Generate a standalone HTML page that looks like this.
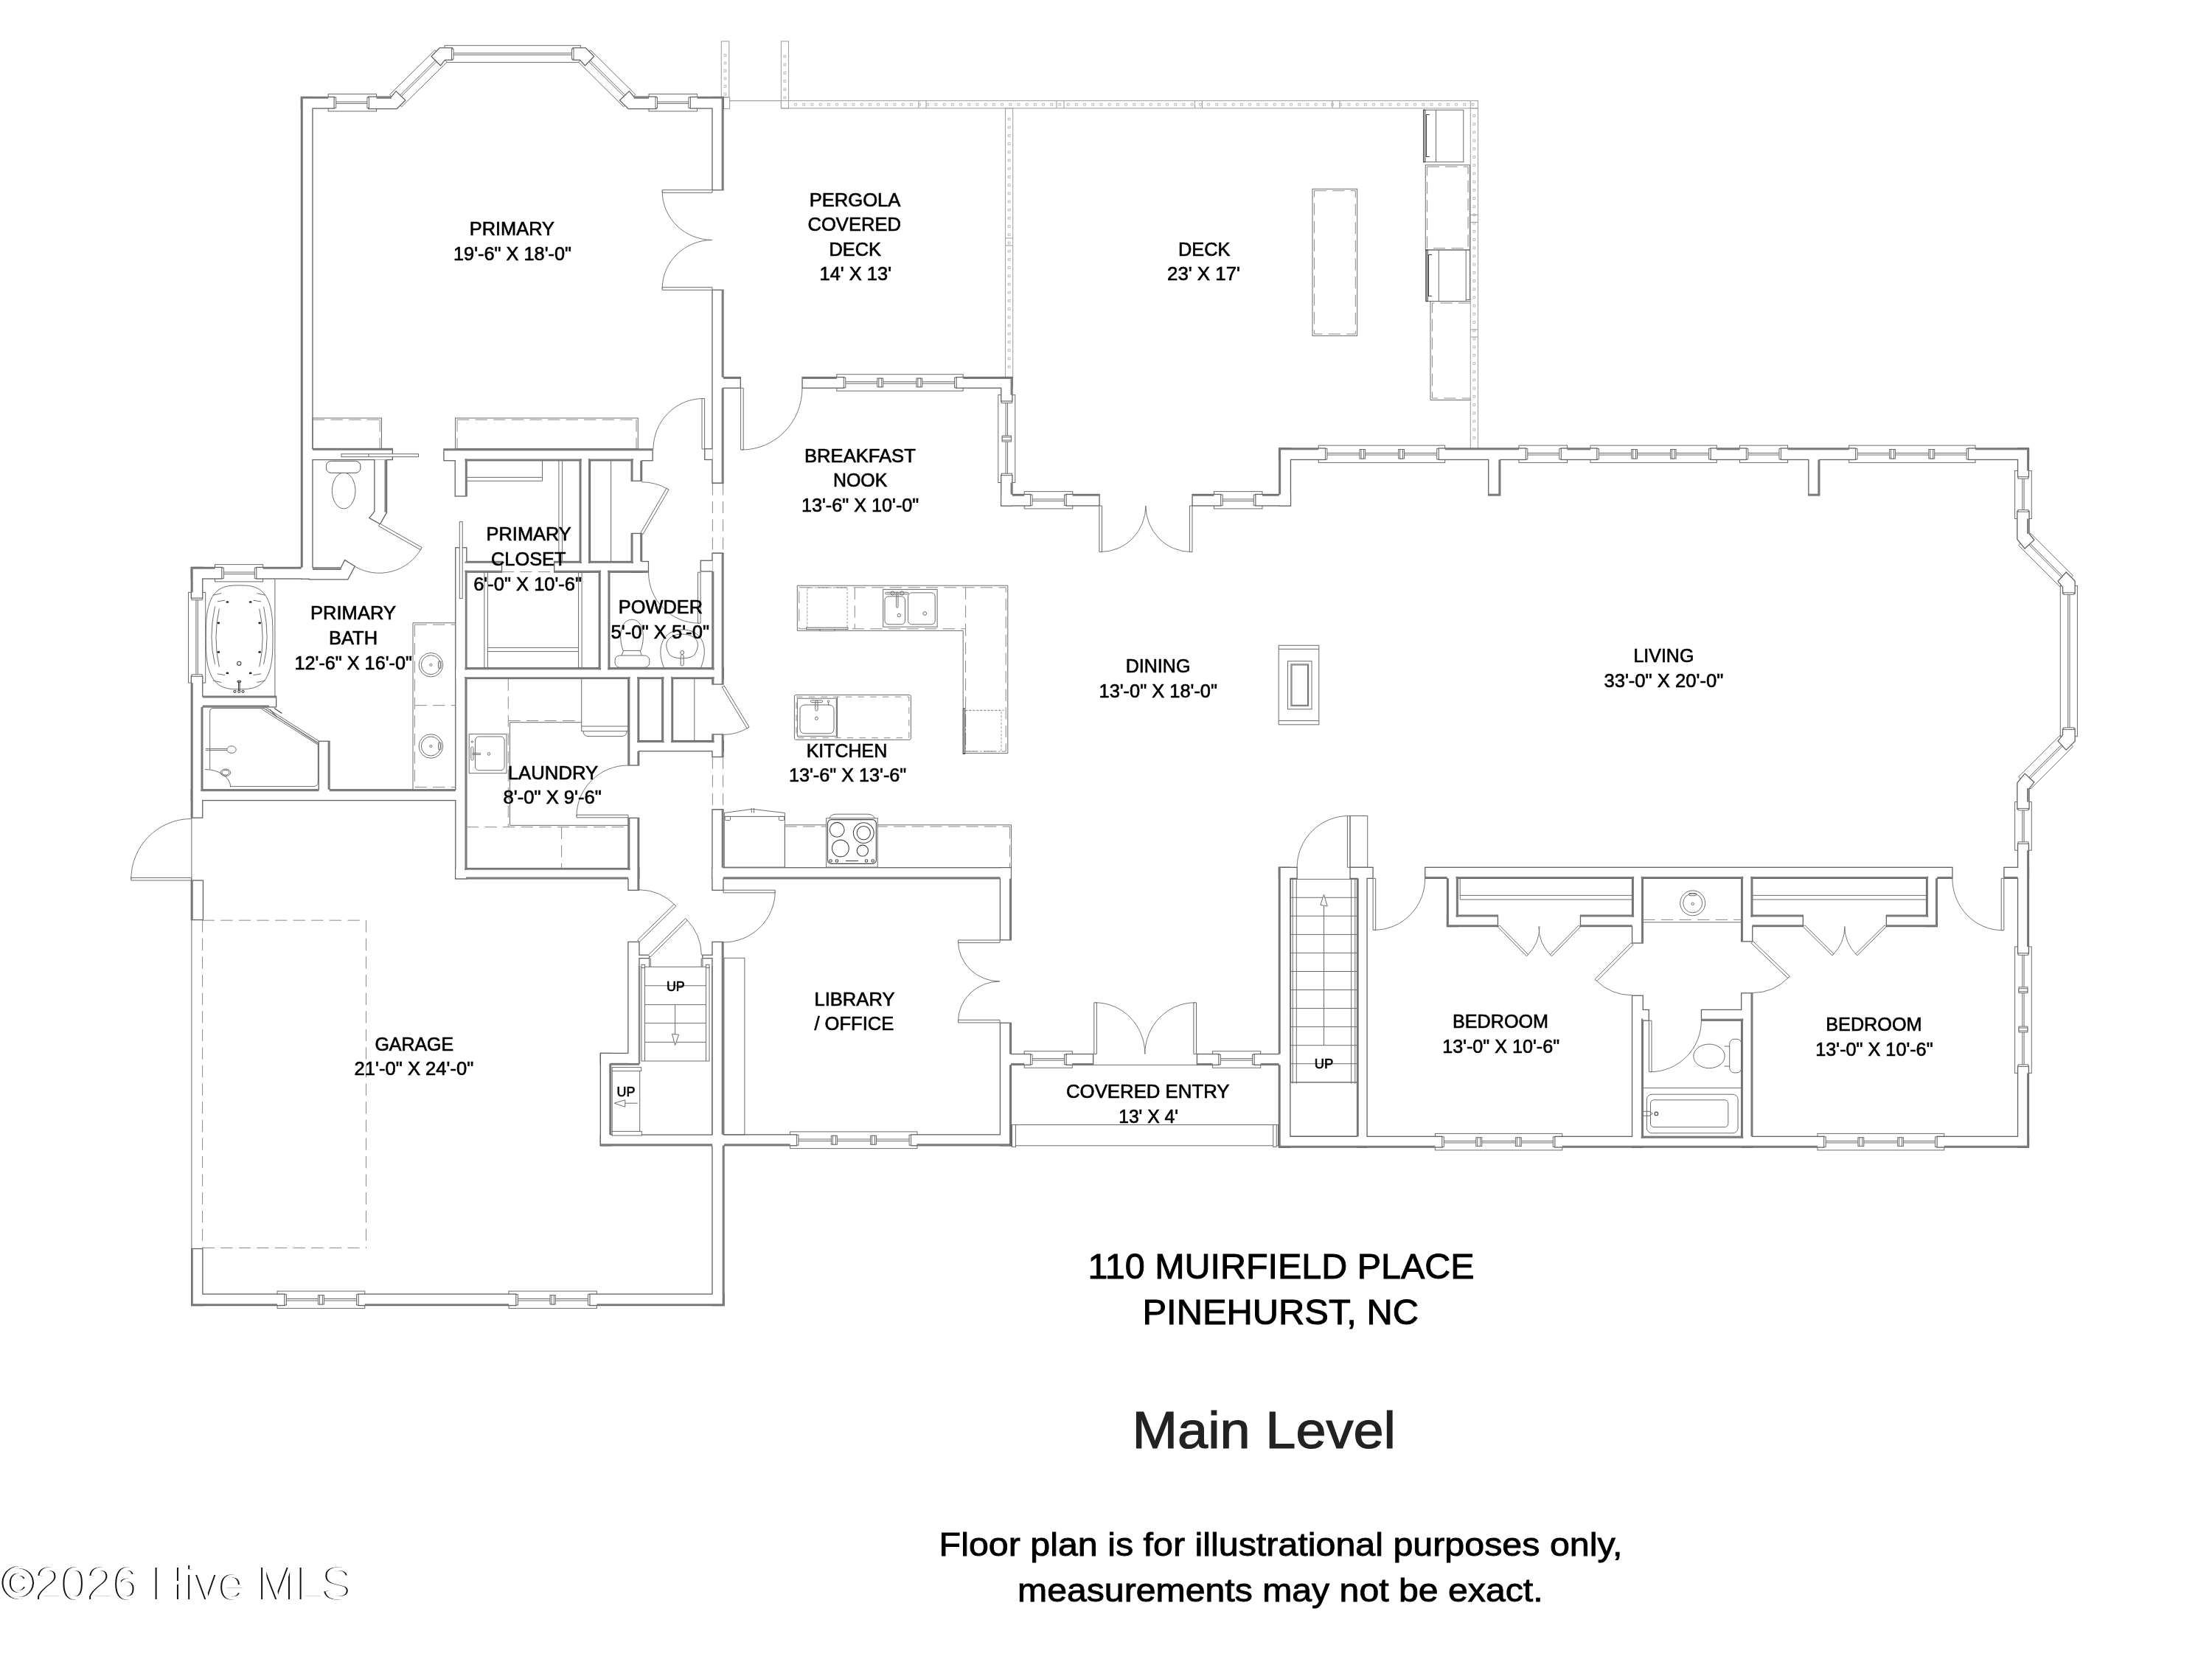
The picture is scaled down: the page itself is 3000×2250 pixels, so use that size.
<!DOCTYPE html>
<html lang="en"><head><meta charset="utf-8"><title>110 Muirfield Place - Main Level</title>
<style>
html,body{margin:0;padding:0;background:#fff}
body{width:3000px;height:2250px;overflow:hidden}
svg{display:block;will-change:transform}
.t{fill:none;stroke:#6c6c6c;stroke-width:1}
.w{fill:#fff}
.a{fill:none;stroke:#707070;stroke-width:0.95}
.d{fill:none;stroke:#8a8a8a;stroke-width:1;stroke-dasharray:16.3 8.3}
.d3{fill:none;stroke:#8a8a8a;stroke-width:1;stroke-dasharray:8.5 8.2}
.d2{fill:none;stroke:#909090;stroke-width:0.9;stroke-dasharray:3 2}
.k{fill:#222;stroke:none}
.k2{fill:none;stroke:#444;stroke-width:1.1}
.k3{fill:none;stroke:#888;stroke-width:2.6}
.ws{fill:none;stroke:#626262;stroke-width:2.6;stroke-linejoin:miter}
.wf{fill:#fff;stroke:none}
.x{fill:none;stroke:#7c7c7c;stroke-width:2.3}
.r{fill:none;stroke:#a4a4a4;stroke-width:1.1}
.rs{fill:none;stroke:#b8b8b8;stroke-width:0.9}
text{font-family:"Liberation Sans",sans-serif;fill:#000}
.h{stroke:#000;stroke-width:0.65}
.h2{stroke:#000;stroke-width:1}
.ml{fill:#222;stroke:#222;stroke-width:1.2}
.fp{stroke:#000;stroke-width:0.9}
.wm{fill:#fff;filter:drop-shadow(-1.6px 0 0 #111)}
</style></head>
<body>
<svg width="3000" height="2250" viewBox="0 0 3000 2250">
<rect class="r w" x="978.3" y="56" width="10.5" height="76"/>
<rect class="rs" x="982.1" y="73.6" width="2.8" height="2.8"/>
<rect class="rs" x="982.1" y="84.1" width="2.8" height="2.8"/>
<rect class="rs" x="982.1" y="94.6" width="2.8" height="2.8"/>
<rect class="rs" x="982.1" y="105.1" width="2.8" height="2.8"/>
<rect class="rs" x="982.1" y="115.6" width="2.8" height="2.8"/>
<rect class="rs" x="982.1" y="126.1" width="2.8" height="2.8"/>
<rect class="r w" x="981" y="132" width="8.6" height="15.5"/>
<path class="r" d="M989 136.6L1059.4 136.6"/>
<rect class="r w" x="1059.4" y="56" width="10.1" height="90.8"/>
<rect class="rs" x="1063" y="75.1" width="2.8" height="2.8"/>
<rect class="rs" x="1063" y="86.3" width="2.8" height="2.8"/>
<rect class="rs" x="1063" y="97.5" width="2.8" height="2.8"/>
<rect class="rs" x="1063" y="108.7" width="2.8" height="2.8"/>
<rect class="rs" x="1063" y="119.9" width="2.8" height="2.8"/>
<rect class="rs" x="1063" y="131.1" width="2.8" height="2.8"/>
<rect class="r w" x="1059.4" y="136.6" width="945.1" height="10.2"/>
<rect class="rs" x="1077.6" y="140.3" width="2.8" height="2.8"/>
<rect class="rs" x="1088.8" y="140.3" width="2.8" height="2.8"/>
<rect class="rs" x="1100" y="140.3" width="2.8" height="2.8"/>
<rect class="rs" x="1111.2" y="140.3" width="2.8" height="2.8"/>
<rect class="rs" x="1122.4" y="140.3" width="2.8" height="2.8"/>
<rect class="rs" x="1133.6" y="140.3" width="2.8" height="2.8"/>
<rect class="rs" x="1144.8" y="140.3" width="2.8" height="2.8"/>
<rect class="rs" x="1156" y="140.3" width="2.8" height="2.8"/>
<rect class="rs" x="1167.2" y="140.3" width="2.8" height="2.8"/>
<rect class="rs" x="1178.4" y="140.3" width="2.8" height="2.8"/>
<rect class="rs" x="1189.6" y="140.3" width="2.8" height="2.8"/>
<rect class="rs" x="1200.8" y="140.3" width="2.8" height="2.8"/>
<rect class="rs" x="1212" y="140.3" width="2.8" height="2.8"/>
<rect class="rs" x="1223.2" y="140.3" width="2.8" height="2.8"/>
<rect class="rs" x="1234.4" y="140.3" width="2.8" height="2.8"/>
<rect class="rs" x="1245.6" y="140.3" width="2.8" height="2.8"/>
<rect class="rs" x="1256.8" y="140.3" width="2.8" height="2.8"/>
<rect class="rs" x="1268" y="140.3" width="2.8" height="2.8"/>
<rect class="rs" x="1279.2" y="140.3" width="2.8" height="2.8"/>
<rect class="rs" x="1290.4" y="140.3" width="2.8" height="2.8"/>
<rect class="rs" x="1301.6" y="140.3" width="2.8" height="2.8"/>
<rect class="rs" x="1312.8" y="140.3" width="2.8" height="2.8"/>
<rect class="rs" x="1324" y="140.3" width="2.8" height="2.8"/>
<rect class="rs" x="1335.2" y="140.3" width="2.8" height="2.8"/>
<rect class="rs" x="1346.4" y="140.3" width="2.8" height="2.8"/>
<rect class="rs" x="1357.6" y="140.3" width="2.8" height="2.8"/>
<rect class="rs" x="1368.8" y="140.3" width="2.8" height="2.8"/>
<rect class="rs" x="1380" y="140.3" width="2.8" height="2.8"/>
<rect class="rs" x="1391.2" y="140.3" width="2.8" height="2.8"/>
<rect class="rs" x="1402.4" y="140.3" width="2.8" height="2.8"/>
<rect class="rs" x="1413.6" y="140.3" width="2.8" height="2.8"/>
<rect class="rs" x="1424.8" y="140.3" width="2.8" height="2.8"/>
<rect class="rs" x="1436" y="140.3" width="2.8" height="2.8"/>
<rect class="rs" x="1447.2" y="140.3" width="2.8" height="2.8"/>
<rect class="rs" x="1458.4" y="140.3" width="2.8" height="2.8"/>
<rect class="rs" x="1469.6" y="140.3" width="2.8" height="2.8"/>
<rect class="rs" x="1480.8" y="140.3" width="2.8" height="2.8"/>
<rect class="rs" x="1492" y="140.3" width="2.8" height="2.8"/>
<rect class="rs" x="1503.2" y="140.3" width="2.8" height="2.8"/>
<rect class="rs" x="1514.4" y="140.3" width="2.8" height="2.8"/>
<rect class="rs" x="1525.6" y="140.3" width="2.8" height="2.8"/>
<rect class="rs" x="1536.8" y="140.3" width="2.8" height="2.8"/>
<rect class="rs" x="1548" y="140.3" width="2.8" height="2.8"/>
<rect class="rs" x="1559.2" y="140.3" width="2.8" height="2.8"/>
<rect class="rs" x="1570.4" y="140.3" width="2.8" height="2.8"/>
<rect class="rs" x="1581.6" y="140.3" width="2.8" height="2.8"/>
<rect class="rs" x="1592.8" y="140.3" width="2.8" height="2.8"/>
<rect class="rs" x="1604" y="140.3" width="2.8" height="2.8"/>
<rect class="rs" x="1615.2" y="140.3" width="2.8" height="2.8"/>
<rect class="rs" x="1626.4" y="140.3" width="2.8" height="2.8"/>
<rect class="rs" x="1637.6" y="140.3" width="2.8" height="2.8"/>
<rect class="rs" x="1648.8" y="140.3" width="2.8" height="2.8"/>
<rect class="rs" x="1660" y="140.3" width="2.8" height="2.8"/>
<rect class="rs" x="1671.2" y="140.3" width="2.8" height="2.8"/>
<rect class="rs" x="1682.4" y="140.3" width="2.8" height="2.8"/>
<rect class="rs" x="1693.6" y="140.3" width="2.8" height="2.8"/>
<rect class="rs" x="1704.8" y="140.3" width="2.8" height="2.8"/>
<rect class="rs" x="1716" y="140.3" width="2.8" height="2.8"/>
<rect class="rs" x="1727.2" y="140.3" width="2.8" height="2.8"/>
<rect class="rs" x="1738.4" y="140.3" width="2.8" height="2.8"/>
<rect class="rs" x="1749.6" y="140.3" width="2.8" height="2.8"/>
<rect class="rs" x="1760.8" y="140.3" width="2.8" height="2.8"/>
<rect class="rs" x="1772" y="140.3" width="2.8" height="2.8"/>
<rect class="rs" x="1783.2" y="140.3" width="2.8" height="2.8"/>
<rect class="rs" x="1794.4" y="140.3" width="2.8" height="2.8"/>
<rect class="rs" x="1805.6" y="140.3" width="2.8" height="2.8"/>
<rect class="rs" x="1816.8" y="140.3" width="2.8" height="2.8"/>
<rect class="rs" x="1828" y="140.3" width="2.8" height="2.8"/>
<rect class="rs" x="1839.2" y="140.3" width="2.8" height="2.8"/>
<rect class="rs" x="1850.4" y="140.3" width="2.8" height="2.8"/>
<rect class="rs" x="1861.6" y="140.3" width="2.8" height="2.8"/>
<rect class="rs" x="1872.8" y="140.3" width="2.8" height="2.8"/>
<rect class="rs" x="1884" y="140.3" width="2.8" height="2.8"/>
<rect class="rs" x="1895.2" y="140.3" width="2.8" height="2.8"/>
<rect class="rs" x="1906.4" y="140.3" width="2.8" height="2.8"/>
<rect class="rs" x="1917.6" y="140.3" width="2.8" height="2.8"/>
<rect class="rs" x="1928.8" y="140.3" width="2.8" height="2.8"/>
<rect class="rs" x="1940" y="140.3" width="2.8" height="2.8"/>
<rect class="rs" x="1951.2" y="140.3" width="2.8" height="2.8"/>
<rect class="rs" x="1962.4" y="140.3" width="2.8" height="2.8"/>
<rect class="rs" x="1973.6" y="140.3" width="2.8" height="2.8"/>
<rect class="rs" x="1984.8" y="140.3" width="2.8" height="2.8"/>
<rect class="rs" x="1996" y="140.3" width="2.8" height="2.8"/>
<rect class="r w" x="1363.5" y="146.8" width="10.2" height="364.8"/>
<rect class="rs" x="1367.2" y="160.1" width="2.8" height="2.8"/>
<rect class="rs" x="1367.2" y="171.3" width="2.8" height="2.8"/>
<rect class="rs" x="1367.2" y="182.5" width="2.8" height="2.8"/>
<rect class="rs" x="1367.2" y="193.7" width="2.8" height="2.8"/>
<rect class="rs" x="1367.2" y="204.9" width="2.8" height="2.8"/>
<rect class="rs" x="1367.2" y="216.1" width="2.8" height="2.8"/>
<rect class="rs" x="1367.2" y="227.3" width="2.8" height="2.8"/>
<rect class="rs" x="1367.2" y="238.5" width="2.8" height="2.8"/>
<rect class="rs" x="1367.2" y="249.7" width="2.8" height="2.8"/>
<rect class="rs" x="1367.2" y="260.9" width="2.8" height="2.8"/>
<rect class="rs" x="1367.2" y="272.1" width="2.8" height="2.8"/>
<rect class="rs" x="1367.2" y="283.3" width="2.8" height="2.8"/>
<rect class="rs" x="1367.2" y="294.5" width="2.8" height="2.8"/>
<rect class="rs" x="1367.2" y="305.7" width="2.8" height="2.8"/>
<rect class="rs" x="1367.2" y="316.9" width="2.8" height="2.8"/>
<rect class="rs" x="1367.2" y="328.1" width="2.8" height="2.8"/>
<rect class="rs" x="1367.2" y="339.3" width="2.8" height="2.8"/>
<rect class="rs" x="1367.2" y="350.5" width="2.8" height="2.8"/>
<rect class="rs" x="1367.2" y="361.7" width="2.8" height="2.8"/>
<rect class="rs" x="1367.2" y="372.9" width="2.8" height="2.8"/>
<rect class="rs" x="1367.2" y="384.1" width="2.8" height="2.8"/>
<rect class="rs" x="1367.2" y="395.3" width="2.8" height="2.8"/>
<rect class="rs" x="1367.2" y="406.5" width="2.8" height="2.8"/>
<rect class="rs" x="1367.2" y="417.7" width="2.8" height="2.8"/>
<rect class="rs" x="1367.2" y="428.9" width="2.8" height="2.8"/>
<rect class="rs" x="1367.2" y="440.1" width="2.8" height="2.8"/>
<rect class="rs" x="1367.2" y="451.3" width="2.8" height="2.8"/>
<rect class="rs" x="1367.2" y="462.5" width="2.8" height="2.8"/>
<rect class="rs" x="1367.2" y="473.7" width="2.8" height="2.8"/>
<rect class="rs" x="1367.2" y="484.9" width="2.8" height="2.8"/>
<rect class="rs" x="1367.2" y="496.1" width="2.8" height="2.8"/>
<rect class="r w" x="1994.3" y="146.8" width="10.2" height="461.7"/>
<rect class="rs" x="1998" y="155.6" width="2.8" height="2.8"/>
<rect class="rs" x="1998" y="166.8" width="2.8" height="2.8"/>
<rect class="rs" x="1998" y="178" width="2.8" height="2.8"/>
<rect class="rs" x="1998" y="189.2" width="2.8" height="2.8"/>
<rect class="rs" x="1998" y="200.4" width="2.8" height="2.8"/>
<rect class="rs" x="1998" y="211.6" width="2.8" height="2.8"/>
<rect class="rs" x="1998" y="222.8" width="2.8" height="2.8"/>
<rect class="rs" x="1998" y="234" width="2.8" height="2.8"/>
<rect class="rs" x="1998" y="245.2" width="2.8" height="2.8"/>
<rect class="rs" x="1998" y="256.4" width="2.8" height="2.8"/>
<rect class="rs" x="1998" y="267.6" width="2.8" height="2.8"/>
<rect class="rs" x="1998" y="278.8" width="2.8" height="2.8"/>
<rect class="rs" x="1998" y="290" width="2.8" height="2.8"/>
<rect class="rs" x="1998" y="301.2" width="2.8" height="2.8"/>
<rect class="rs" x="1998" y="312.4" width="2.8" height="2.8"/>
<rect class="rs" x="1998" y="323.6" width="2.8" height="2.8"/>
<rect class="rs" x="1998" y="334.8" width="2.8" height="2.8"/>
<rect class="rs" x="1998" y="346" width="2.8" height="2.8"/>
<rect class="rs" x="1998" y="357.2" width="2.8" height="2.8"/>
<rect class="rs" x="1998" y="368.4" width="2.8" height="2.8"/>
<rect class="rs" x="1998" y="379.6" width="2.8" height="2.8"/>
<rect class="rs" x="1998" y="390.8" width="2.8" height="2.8"/>
<rect class="rs" x="1998" y="402" width="2.8" height="2.8"/>
<rect class="rs" x="1998" y="413.2" width="2.8" height="2.8"/>
<rect class="rs" x="1998" y="424.4" width="2.8" height="2.8"/>
<rect class="rs" x="1998" y="435.6" width="2.8" height="2.8"/>
<rect class="rs" x="1998" y="446.8" width="2.8" height="2.8"/>
<rect class="rs" x="1998" y="458" width="2.8" height="2.8"/>
<rect class="rs" x="1998" y="469.2" width="2.8" height="2.8"/>
<rect class="rs" x="1998" y="480.4" width="2.8" height="2.8"/>
<rect class="rs" x="1998" y="491.6" width="2.8" height="2.8"/>
<rect class="rs" x="1998" y="502.8" width="2.8" height="2.8"/>
<rect class="rs" x="1998" y="514" width="2.8" height="2.8"/>
<rect class="rs" x="1998" y="525.2" width="2.8" height="2.8"/>
<rect class="rs" x="1998" y="536.4" width="2.8" height="2.8"/>
<rect class="rs" x="1998" y="547.6" width="2.8" height="2.8"/>
<rect class="rs" x="1998" y="558.8" width="2.8" height="2.8"/>
<rect class="rs" x="1998" y="570" width="2.8" height="2.8"/>
<rect class="rs" x="1998" y="581.2" width="2.8" height="2.8"/>
<rect class="rs" x="1998" y="592.4" width="2.8" height="2.8"/>
<path class="r" d="M1246 136.6L1246 146.8"/>
<path class="r" d="M1256 136.6L1256 146.8"/>
<path class="r" d="M1433 136.6L1433 146.8"/>
<path class="r" d="M1443 136.6L1443 146.8"/>
<path class="r" d="M1620.5 136.6L1620.5 146.8"/>
<path class="r" d="M1630.5 136.6L1630.5 146.8"/>
<path class="r" d="M1807 136.6L1807 146.8"/>
<path class="r" d="M1817 136.6L1817 146.8"/>
<path class="r" d="M1994.3 136.6L1994.3 146.8"/>
<path class="r" d="M1363.5 323L1373.7 323"/>
<path class="r" d="M1363.5 333L1373.7 333"/>
<path class="r" d="M1994.3 291.5L2004.5 291.5"/>
<path class="r" d="M1994.3 301.5L2004.5 301.5"/>
<path class="r" d="M1994.3 447L2004.5 447"/>
<path class="r" d="M1994.3 457L2004.5 457"/>
<rect class="t w" x="445.2" y="127.6" width="65.3" height="23.3"/>
<rect class="t w" x="880" y="127.6" width="65.6" height="23.3"/>
<rect class="t w" x="603" y="61.7" width="184.4" height="22.9"/>
<path class="t w" d="M544.7 144.8L606.1 84.2L589.9 67.8L528.5 128.4Z"/>
<path class="t w" d="M784.6 84.2L845.8 144.8L862 128.4L800.8 67.8Z"/>
<rect class="t w" x="291.5" y="765.6" width="65.1" height="23.3"/>
<rect class="t w" x="255.5" y="803.4" width="23.2" height="122.7"/>
<rect class="t w" x="1134.8" y="507.7" width="171.4" height="22.5"/>
<rect class="t w" x="1353.8" y="535.6" width="23" height="118.9"/>
<rect class="t w" x="1389.2" y="666.6" width="65.6" height="23.3"/>
<rect class="t w" x="1646.5" y="666.6" width="65.5" height="23.3"/>
<rect class="t w" x="1788.2" y="604.1" width="171.5" height="23.3"/>
<rect class="t w" x="2060" y="604.1" width="65.5" height="23.3"/>
<rect class="t w" x="2157" y="604.1" width="171.3" height="23.3"/>
<rect class="t w" x="2359.5" y="604.1" width="65.1" height="23.3"/>
<rect class="t w" x="2507.7" y="604.1" width="171.3" height="23.3"/>
<rect class="t w" x="2732.6" y="638.4" width="22.7" height="65.1"/>
<path class="t w" d="M2737.6 739.5L2795.2 797.1L2811.5 780.8L2753.9 723.2Z"/>
<path class="t w" d="M2753.9 1070L2811.5 1012.4L2795.2 996.1L2737.6 1053.7Z"/>
<rect class="t w" x="2794.3" y="794.4" width="23.1" height="204.4"/>
<rect class="t w" x="2732.6" y="1087.6" width="22.7" height="65.6"/>
<rect class="t w" x="2732.6" y="1284" width="22.7" height="171.4"/>
<rect class="t w" x="1946.4" y="1537.4" width="172.3" height="22.5"/>
<rect class="t w" x="2465" y="1537.4" width="171.7" height="22.5"/>
<rect class="t w" x="1389.2" y="1425.7" width="65.1" height="22.5"/>
<rect class="t w" x="1644.6" y="1425.7" width="65.1" height="22.5"/>
<rect class="t w" x="1071.6" y="1534.9" width="172.3" height="22.7"/>
<rect class="t w" x="376.1" y="1751.1" width="118.7" height="23.3"/>
<rect class="t w" x="690" y="1751.1" width="119.4" height="23.3"/>
<rect class="ws" x="409.1" y="132.2" width="14.2" height="652.2"/>
<rect class="ws" x="409.1" y="132.2" width="43.7" height="14.2"/>
<path class="ws" d="M500.2 131.8L531.1 131.8L537.1 124.6L549 136L537.9 147L500.2 147Z"/>
<path class="ws" d="M889.3 131.8L859.3 131.8L853.3 124.6L841.4 136L852.5 147L889.3 147Z"/>
<rect class="ws" x="936.8" y="132.2" width="43.6" height="14.2"/>
<path class="ws" d="M596.5 65.6L612.8 65.6L612.8 80.7L603 80.7L597.3 88L585.9 76.6Z"/>
<path class="ws" d="M777.7 65.6L793.9 65.6L804.8 76.6L793.4 88L786.9 80.7L777.7 80.7Z"/>
<rect class="ws" x="966.6" y="132.2" width="13.7" height="124.9"/>
<rect class="ws" x="966.6" y="393.9" width="13.7" height="260.6"/>
<rect class="ws" x="966.6" y="750.9" width="13.7" height="176.5"/>
<rect class="ws" x="966.6" y="996.6" width="13.7" height="29.3"/>
<rect class="ws" x="966.6" y="1098.5" width="13.7" height="108.2"/>
<rect class="ws" x="956.4" y="609.4" width="9.9" height="13.4"/>
<rect class="ws" x="950.9" y="760.9" width="15.5" height="13.4"/>
<rect class="ws" x="422" y="609.1" width="109.7" height="13.8"/>
<rect class="ws" x="602.6" y="609.6" width="281.9" height="14.5"/>
<rect class="ws" x="617.9" y="622.8" width="14.5" height="49.5"/>
<path class="ws" d="M508.5 623.6L523.9 623.6L523.9 694.8L515.3 710L501.9 702.3L508.5 693.7Z"/>
<path class="ws" d="M420 770.6L462.8 770.6L467.8 760.4L480.5 768.3L471.4 785.3L420 785.3Z"/>
<rect class="ws" x="260" y="770.1" width="40.5" height="14.2"/>
<rect class="ws" x="348.1" y="770.1" width="75.2" height="14.2"/>
<rect class="ws" x="260" y="770.1" width="14.1" height="40.7"/>
<rect class="ws" x="260" y="917.6" width="14.1" height="190.9"/>
<rect class="ws" x="272.8" y="944.9" width="101.2" height="13.4"/>
<rect class="ws" x="432.9" y="1005.9" width="13.4" height="66.8"/>
<rect class="ws" x="260" y="1071.5" width="371.7" height="13.4"/>
<rect class="ws" x="618.4" y="743.4" width="13.8" height="447.7"/>
<rect class="ws" x="631.1" y="762.1" width="48.8" height="13.4"/>
<rect class="ws" x="752.4" y="762.1" width="126.4" height="13.4"/>
<rect class="ws" x="786.9" y="622.8" width="12.9" height="152.7"/>
<rect class="ws" x="856.9" y="622.8" width="13" height="28.8"/>
<rect class="ws" x="856.9" y="724.1" width="13" height="51.4"/>
<rect class="ws" x="813" y="774.2" width="13.1" height="133.5"/>
<rect class="ws" x="618.4" y="906.4" width="362" height="13.4"/>
<rect class="ws" x="618.4" y="1178.2" width="247.7" height="13"/>
<rect class="ws" x="852.6" y="918.5" width="13.4" height="118.8"/>
<rect class="ws" x="852.6" y="1110" width="13.4" height="96.7"/>
<rect class="ws" x="864.8" y="1005.2" width="115.6" height="12.9"/>
<rect class="ws" x="898.5" y="918.5" width="13.4" height="88"/>
<rect class="ws" x="975.6" y="512.2" width="28.1" height="13.4"/>
<rect class="ws" x="1088.7" y="512.2" width="55.3" height="13.4"/>
<rect class="ws" x="1297.4" y="512.2" width="74.9" height="13.4"/>
<rect class="ws" x="1358.4" y="512.2" width="13.9" height="31.5"/>
<rect class="ws" x="1358.4" y="645" width="13.9" height="40.3"/>
<rect class="ws" x="1358.4" y="671.1" width="38.8" height="14.2"/>
<rect class="ws" x="1446.4" y="671.1" width="44" height="14.2"/>
<rect class="ws" x="1617.7" y="671.1" width="37.7" height="14.2"/>
<rect class="ws" x="1703.2" y="671.1" width="46.6" height="14.2"/>
<rect class="ws" x="1735.5" y="608.6" width="14.3" height="76.7"/>
<rect class="ws" x="1735.5" y="608.6" width="61.6" height="14.2"/>
<rect class="ws" x="1951.6" y="608.6" width="117.4" height="14.2"/>
<rect class="ws" x="2117.7" y="608.6" width="47.9" height="14.2"/>
<rect class="ws" x="2320.5" y="608.6" width="47.5" height="14.2"/>
<rect class="ws" x="2415.8" y="608.6" width="100.3" height="14.2"/>
<rect class="ws" x="2670" y="608.6" width="80.8" height="14.2"/>
<rect class="ws" x="2019.4" y="621.5" width="14.7" height="49.8"/>
<rect class="ws" x="2453.5" y="621.5" width="13.6" height="49.8"/>
<rect class="ws" x="2737.2" y="608.6" width="13.6" height="37.7"/>
<path class="ws" d="M2736.5 693.8L2751.4 693.8L2751.4 723.9L2758 732.2L2746.2 743.1L2736.5 731.3Z"/>
<path class="ws" d="M2802.2 777L2813.5 788.3L2813.5 804.1L2798.2 804.1L2798.2 796.2L2791.9 788.3Z"/>
<path class="ws" d="M2802.2 1016.2L2813.5 1004.9L2813.5 989.1L2798.2 989.1L2798.2 997L2791.9 1004.9Z"/>
<path class="ws" d="M2736.5 1096.7L2751.4 1096.7L2751.4 1069.3L2758 1061L2746.2 1050.1L2736.5 1061.9Z"/>
<rect class="ws" x="2737.2" y="1144.8" width="13.6" height="147.7"/>
<rect class="ws" x="2737.2" y="1446.8" width="13.6" height="108.6"/>
<rect class="ws" x="1735.1" y="1177" width="23.4" height="13.7"/>
<rect class="ws" x="1831.7" y="1177" width="29.7" height="13.7"/>
<rect class="ws" x="1933.4" y="1177" width="713.9" height="13.7"/>
<rect class="ws" x="2718.6" y="1177" width="32.2" height="13.7"/>
<rect class="ws" x="1735.1" y="1542" width="220.4" height="13.4"/>
<rect class="ws" x="2109.2" y="1542" width="364.2" height="13.4"/>
<rect class="ws" x="2627.5" y="1542" width="123.3" height="13.4"/>
<rect class="ws" x="1735.1" y="1177" width="14.1" height="378.4"/>
<rect class="ws" x="1841.2" y="1189.4" width="12.2" height="366"/>
<rect class="ws" x="2214.2" y="1189.4" width="13.4" height="89"/>
<rect class="ws" x="2214.2" y="1350.9" width="13.4" height="204.5"/>
<rect class="ws" x="2226.4" y="1370.1" width="9.2" height="13.4"/>
<rect class="ws" x="2362.3" y="1189.4" width="13.8" height="86.8"/>
<rect class="ws" x="2362.3" y="1347.5" width="13.8" height="207.9"/>
<rect class="ws" x="2308.1" y="1370.1" width="55.6" height="13.4"/>
<rect class="ws" x="1963.2" y="1189.4" width="13.3" height="66.5"/>
<rect class="ws" x="1963.2" y="1241.9" width="67.6" height="14"/>
<rect class="ws" x="2144.1" y="1241.9" width="71.5" height="14"/>
<rect class="ws" x="2374.5" y="1241.9" width="70.2" height="14"/>
<rect class="ws" x="2559" y="1241.9" width="67.7" height="14"/>
<rect class="ws" x="2613.2" y="1189.4" width="13.4" height="66.5"/>
<rect class="ws" x="1369.2" y="1430.2" width="28" height="13.4"/>
<rect class="ws" x="1446.4" y="1430.2" width="35.6" height="13.4"/>
<rect class="ws" x="1624.1" y="1430.2" width="28.5" height="13.4"/>
<rect class="ws" x="1701.4" y="1430.2" width="35.2" height="13.4"/>
<rect class="ws" x="1357.1" y="1177.4" width="13.6" height="96.8"/>
<rect class="ws" x="1357.1" y="1388" width="13.6" height="165.1"/>
<rect class="ws" x="966.6" y="1177.4" width="404" height="13.7"/>
<rect class="ws" x="966.6" y="1278.1" width="13.7" height="277.6"/>
<rect class="ws" x="966.6" y="1539.5" width="113.4" height="13.6"/>
<rect class="ws" x="1236" y="1539.5" width="134.7" height="13.6"/>
<rect class="ws" x="852.5" y="1278.1" width="13.8" height="163.7"/>
<rect class="ws" x="815" y="1429.1" width="51.3" height="12.7"/>
<rect class="ws" x="815" y="1429.1" width="12.9" height="124"/>
<rect class="ws" x="815" y="1539.7" width="165.3" height="13.4"/>
<rect class="ws" x="865" y="1295.9" width="14.9" height="3.1"/>
<rect class="ws" x="953.5" y="1295.9" width="14.4" height="3.1"/>
<rect class="ws" x="260" y="1194.7" width="14.8" height="52.2"/>
<rect class="ws" x="260.3" y="1694.2" width="13.9" height="75.7"/>
<rect class="ws" x="260.3" y="1755.7" width="125.3" height="14.2"/>
<rect class="ws" x="486.3" y="1755.7" width="213.2" height="14.2"/>
<rect class="ws" x="800.2" y="1755.7" width="181.1" height="14.2"/>
<rect class="ws" x="966.6" y="1551.8" width="14.7" height="218.1"/>
<rect class="wf" x="409.1" y="132.2" width="14.2" height="652.2"/>
<rect class="wf" x="409.1" y="132.2" width="43.7" height="14.2"/>
<path class="wf" d="M500.2 131.8L531.1 131.8L537.1 124.6L549 136L537.9 147L500.2 147Z"/>
<path class="wf" d="M889.3 131.8L859.3 131.8L853.3 124.6L841.4 136L852.5 147L889.3 147Z"/>
<rect class="wf" x="936.8" y="132.2" width="43.6" height="14.2"/>
<path class="wf" d="M596.5 65.6L612.8 65.6L612.8 80.7L603 80.7L597.3 88L585.9 76.6Z"/>
<path class="wf" d="M777.7 65.6L793.9 65.6L804.8 76.6L793.4 88L786.9 80.7L777.7 80.7Z"/>
<rect class="wf" x="966.6" y="132.2" width="13.7" height="124.9"/>
<rect class="wf" x="966.6" y="393.9" width="13.7" height="260.6"/>
<rect class="wf" x="966.6" y="750.9" width="13.7" height="176.5"/>
<rect class="wf" x="966.6" y="996.6" width="13.7" height="29.3"/>
<rect class="wf" x="966.6" y="1098.5" width="13.7" height="108.2"/>
<rect class="wf" x="956.4" y="609.4" width="9.9" height="13.4"/>
<rect class="wf" x="950.9" y="760.9" width="15.5" height="13.4"/>
<rect class="wf" x="422" y="609.1" width="109.7" height="13.8"/>
<rect class="wf" x="602.6" y="609.6" width="281.9" height="14.5"/>
<rect class="wf" x="617.9" y="622.8" width="14.5" height="49.5"/>
<path class="wf" d="M508.5 623.6L523.9 623.6L523.9 694.8L515.3 710L501.9 702.3L508.5 693.7Z"/>
<path class="wf" d="M420 770.6L462.8 770.6L467.8 760.4L480.5 768.3L471.4 785.3L420 785.3Z"/>
<rect class="wf" x="260" y="770.1" width="40.5" height="14.2"/>
<rect class="wf" x="348.1" y="770.1" width="75.2" height="14.2"/>
<rect class="wf" x="260" y="770.1" width="14.1" height="40.7"/>
<rect class="wf" x="260" y="917.6" width="14.1" height="190.9"/>
<rect class="wf" x="272.8" y="944.9" width="101.2" height="13.4"/>
<rect class="wf" x="432.9" y="1005.9" width="13.4" height="66.8"/>
<rect class="wf" x="260" y="1071.5" width="371.7" height="13.4"/>
<rect class="wf" x="618.4" y="743.4" width="13.8" height="447.7"/>
<rect class="wf" x="631.1" y="762.1" width="48.8" height="13.4"/>
<rect class="wf" x="752.4" y="762.1" width="126.4" height="13.4"/>
<rect class="wf" x="786.9" y="622.8" width="12.9" height="152.7"/>
<rect class="wf" x="856.9" y="622.8" width="13" height="28.8"/>
<rect class="wf" x="856.9" y="724.1" width="13" height="51.4"/>
<rect class="wf" x="813" y="774.2" width="13.1" height="133.5"/>
<rect class="wf" x="618.4" y="906.4" width="362" height="13.4"/>
<rect class="wf" x="618.4" y="1178.2" width="247.7" height="13"/>
<rect class="wf" x="852.6" y="918.5" width="13.4" height="118.8"/>
<rect class="wf" x="852.6" y="1110" width="13.4" height="96.7"/>
<rect class="wf" x="864.8" y="1005.2" width="115.6" height="12.9"/>
<rect class="wf" x="898.5" y="918.5" width="13.4" height="88"/>
<rect class="wf" x="975.6" y="512.2" width="28.1" height="13.4"/>
<rect class="wf" x="1088.7" y="512.2" width="55.3" height="13.4"/>
<rect class="wf" x="1297.4" y="512.2" width="74.9" height="13.4"/>
<rect class="wf" x="1358.4" y="512.2" width="13.9" height="31.5"/>
<rect class="wf" x="1358.4" y="645" width="13.9" height="40.3"/>
<rect class="wf" x="1358.4" y="671.1" width="38.8" height="14.2"/>
<rect class="wf" x="1446.4" y="671.1" width="44" height="14.2"/>
<rect class="wf" x="1617.7" y="671.1" width="37.7" height="14.2"/>
<rect class="wf" x="1703.2" y="671.1" width="46.6" height="14.2"/>
<rect class="wf" x="1735.5" y="608.6" width="14.3" height="76.7"/>
<rect class="wf" x="1735.5" y="608.6" width="61.6" height="14.2"/>
<rect class="wf" x="1951.6" y="608.6" width="117.4" height="14.2"/>
<rect class="wf" x="2117.7" y="608.6" width="47.9" height="14.2"/>
<rect class="wf" x="2320.5" y="608.6" width="47.5" height="14.2"/>
<rect class="wf" x="2415.8" y="608.6" width="100.3" height="14.2"/>
<rect class="wf" x="2670" y="608.6" width="80.8" height="14.2"/>
<rect class="wf" x="2019.4" y="621.5" width="14.7" height="49.8"/>
<rect class="wf" x="2453.5" y="621.5" width="13.6" height="49.8"/>
<rect class="wf" x="2737.2" y="608.6" width="13.6" height="37.7"/>
<path class="wf" d="M2736.5 693.8L2751.4 693.8L2751.4 723.9L2758 732.2L2746.2 743.1L2736.5 731.3Z"/>
<path class="wf" d="M2802.2 777L2813.5 788.3L2813.5 804.1L2798.2 804.1L2798.2 796.2L2791.9 788.3Z"/>
<path class="wf" d="M2802.2 1016.2L2813.5 1004.9L2813.5 989.1L2798.2 989.1L2798.2 997L2791.9 1004.9Z"/>
<path class="wf" d="M2736.5 1096.7L2751.4 1096.7L2751.4 1069.3L2758 1061L2746.2 1050.1L2736.5 1061.9Z"/>
<rect class="wf" x="2737.2" y="1144.8" width="13.6" height="147.7"/>
<rect class="wf" x="2737.2" y="1446.8" width="13.6" height="108.6"/>
<rect class="wf" x="1735.1" y="1177" width="23.4" height="13.7"/>
<rect class="wf" x="1831.7" y="1177" width="29.7" height="13.7"/>
<rect class="wf" x="1933.4" y="1177" width="713.9" height="13.7"/>
<rect class="wf" x="2718.6" y="1177" width="32.2" height="13.7"/>
<rect class="wf" x="1735.1" y="1542" width="220.4" height="13.4"/>
<rect class="wf" x="2109.2" y="1542" width="364.2" height="13.4"/>
<rect class="wf" x="2627.5" y="1542" width="123.3" height="13.4"/>
<rect class="wf" x="1735.1" y="1177" width="14.1" height="378.4"/>
<rect class="wf" x="1841.2" y="1189.4" width="12.2" height="366"/>
<rect class="wf" x="2214.2" y="1189.4" width="13.4" height="89"/>
<rect class="wf" x="2214.2" y="1350.9" width="13.4" height="204.5"/>
<rect class="wf" x="2226.4" y="1370.1" width="9.2" height="13.4"/>
<rect class="wf" x="2362.3" y="1189.4" width="13.8" height="86.8"/>
<rect class="wf" x="2362.3" y="1347.5" width="13.8" height="207.9"/>
<rect class="wf" x="2308.1" y="1370.1" width="55.6" height="13.4"/>
<rect class="wf" x="1963.2" y="1189.4" width="13.3" height="66.5"/>
<rect class="wf" x="1963.2" y="1241.9" width="67.6" height="14"/>
<rect class="wf" x="2144.1" y="1241.9" width="71.5" height="14"/>
<rect class="wf" x="2374.5" y="1241.9" width="70.2" height="14"/>
<rect class="wf" x="2559" y="1241.9" width="67.7" height="14"/>
<rect class="wf" x="2613.2" y="1189.4" width="13.4" height="66.5"/>
<rect class="wf" x="1369.2" y="1430.2" width="28" height="13.4"/>
<rect class="wf" x="1446.4" y="1430.2" width="35.6" height="13.4"/>
<rect class="wf" x="1624.1" y="1430.2" width="28.5" height="13.4"/>
<rect class="wf" x="1701.4" y="1430.2" width="35.2" height="13.4"/>
<rect class="wf" x="1357.1" y="1177.4" width="13.6" height="96.8"/>
<rect class="wf" x="1357.1" y="1388" width="13.6" height="165.1"/>
<rect class="wf" x="966.6" y="1177.4" width="404" height="13.7"/>
<rect class="wf" x="966.6" y="1278.1" width="13.7" height="277.6"/>
<rect class="wf" x="966.6" y="1539.5" width="113.4" height="13.6"/>
<rect class="wf" x="1236" y="1539.5" width="134.7" height="13.6"/>
<rect class="wf" x="852.5" y="1278.1" width="13.8" height="163.7"/>
<rect class="wf" x="815" y="1429.1" width="51.3" height="12.7"/>
<rect class="wf" x="815" y="1429.1" width="12.9" height="124"/>
<rect class="wf" x="815" y="1539.7" width="165.3" height="13.4"/>
<rect class="wf" x="865" y="1295.9" width="14.9" height="3.1"/>
<rect class="wf" x="953.5" y="1295.9" width="14.4" height="3.1"/>
<rect class="wf" x="260" y="1194.7" width="14.8" height="52.2"/>
<rect class="wf" x="260.3" y="1694.2" width="13.9" height="75.7"/>
<rect class="wf" x="260.3" y="1755.7" width="125.3" height="14.2"/>
<rect class="wf" x="486.3" y="1755.7" width="213.2" height="14.2"/>
<rect class="wf" x="800.2" y="1755.7" width="181.1" height="14.2"/>
<rect class="wf" x="966.6" y="1551.8" width="14.7" height="218.1"/>
<path class="x" d="M409.7 131.5L409.7 769.5"/>
<path class="x" d="M408.5 132.7L445.2 132.7"/>
<path class="x" d="M510.5 132.7L531 132.7"/>
<path class="x" d="M859.5 132.7L880 132.7"/>
<path class="x" d="M945.6 132.7L981 132.7"/>
<path class="x" d="M979.8 131.5L979.8 257.7"/>
<path class="x" d="M979.8 393.3L979.8 511.6"/>
<path class="x" d="M979.8 526.3L979.8 655.2"/>
<path class="x" d="M979.8 750.2L979.8 928"/>
<path class="x" d="M979.8 996L979.8 1026.6"/>
<path class="x" d="M979.8 1097.8L979.8 1176.7"/>
<path class="x" d="M259.4 770.7L291.5 770.7"/>
<path class="x" d="M356.6 770.7L408.5 770.7"/>
<path class="x" d="M260.6 769.5L260.6 803.4"/>
<path class="x" d="M260.6 926.1L260.6 1109.2"/>
<path class="x" d="M260.6 1194L260.6 1247.5"/>
<path class="x" d="M260.6 1693.5L260.6 1770.5"/>
<path class="x" d="M259.7 1769.3L376.1 1769.3"/>
<path class="x" d="M494.8 1769.3L690 1769.3"/>
<path class="x" d="M809.4 1769.3L982 1769.3"/>
<path class="x" d="M980.8 1553.7L980.8 1770.5"/>
<path class="x" d="M814.4 1552.5L966 1552.5"/>
<path class="x" d="M982 1552.5L1071.6 1552.5"/>
<path class="x" d="M1243.4 1552.5L1371.3 1552.5"/>
<path class="x" d="M827.4 1442.4L827.4 1539"/>
<path class="x" d="M828.6 1443.6L867 1443.6"/>
<path class="x" d="M1370.1 1191.7L1370.1 1274.8"/>
<path class="x" d="M1370.1 1387.3L1370.1 1429.6"/>
<path class="x" d="M1370.1 1444.3L1370.1 1553.7"/>
<path class="x" d="M1371.1 1443.1L1389.2 1443.1"/>
<path class="x" d="M1454.3 1443.1L1482.6 1443.1"/>
<path class="x" d="M1623.4 1443.1L1644.6 1443.1"/>
<path class="x" d="M1709.7 1443.1L1734.6 1443.1"/>
<path class="x" d="M1735.6 1176.3L1735.6 1429.6"/>
<path class="x" d="M1735.6 1444.3L1735.6 1556"/>
<path class="x" d="M1734.4 1554.8L1946.4 1554.8"/>
<path class="x" d="M2118.7 1554.8L2465 1554.8"/>
<path class="x" d="M2636.7 1554.8L2751.4 1554.8"/>
<path class="x" d="M2750.2 1455.4L2750.2 1556"/>
<path class="x" d="M2750.2 1153.2L2750.2 1284"/>
<path class="x" d="M2750.2 1069L2750.2 1087.6"/>
<path class="x" d="M2750.2 703.5L2750.2 723.9"/>
<path class="x" d="M2750.2 608L2750.2 638.4"/>
<path class="x" d="M1734.8 609.2L1788.2 609.2"/>
<path class="x" d="M1959.7 609.2L2060 609.2"/>
<path class="x" d="M2125.5 609.2L2157 609.2"/>
<path class="x" d="M2328.3 609.2L2359.5 609.2"/>
<path class="x" d="M2424.6 609.2L2507.7 609.2"/>
<path class="x" d="M2679 609.2L2751.4 609.2"/>
<path class="x" d="M1736 608L1736 670.5"/>
<path class="x" d="M1712 671.7L1734.8 671.7"/>
<path class="x" d="M1617 671.7L1646.5 671.7"/>
<path class="x" d="M1454.8 671.7L1491 671.7"/>
<path class="x" d="M1372.9 671.7L1389.2 671.7"/>
<path class="x" d="M1371.7 511.6L1371.7 535.6"/>
<path class="x" d="M1371.7 654.5L1371.7 670.5"/>
<path class="x" d="M981 512.8L1004.4 512.8"/>
<path class="x" d="M1088 512.8L1134.8 512.8"/>
<path class="x" d="M1306.2 512.8L1372.9 512.8"/>
<path class="x" d="M2033.5 623.5L2033.5 672"/>
<path class="x" d="M2018.7 670.8L2034.7 670.8"/>
<path class="x" d="M2466.5 623.5L2466.5 672"/>
<path class="x" d="M2452.8 670.8L2467.7 670.8"/>
<path class="x" d="M630.5 775L680.6 775"/>
<path class="x" d="M751.8 775L815 775"/>
<path class="x" d="M630.5 907L815 907"/>
<path class="x" d="M631.9 773.6L631.9 908.4"/>
<path class="x" d="M813.6 773.6L813.6 908.4"/>
<path class="x" d="M824.2 775L879.5 775"/>
<path class="x" d="M824.2 907L968.6 907"/>
<path class="x" d="M825.6 773.6L825.6 908.4"/>
<path class="x" d="M967.2 775L967.2 908.4"/>
<path class="x" d="M630.5 623.6L788.8 623.6"/>
<path class="x" d="M630.5 762.7L680.6 762.7"/>
<path class="x" d="M751.8 762.7L788.8 762.7"/>
<path class="x" d="M631.9 622.2L631.9 673"/>
<path class="x" d="M787.4 622.2L787.4 764.1"/>
<path class="x" d="M797.8 623.6L858.8 623.6"/>
<path class="x" d="M797.8 762.7L858.8 762.7"/>
<path class="x" d="M799.2 622.2L799.2 764.1"/>
<path class="x" d="M857.4 622.2L857.4 652.3"/>
<path class="x" d="M857.4 723.5L857.4 764.1"/>
<path class="x" d="M869.3 624.8L869.3 652.3"/>
<path class="x" d="M869.3 723.5L869.3 761.5"/>
<path class="x" d="M630.2 919.3L854.6 919.3"/>
<path class="x" d="M630.2 1178.7L854.6 1178.7"/>
<path class="x" d="M631.6 917.9L631.6 1180.1"/>
<path class="x" d="M853.2 917.9L853.2 1038"/>
<path class="x" d="M853.2 1109.3L853.2 1180.1"/>
<path class="x" d="M864.1 919.3L900.5 919.3"/>
<path class="x" d="M864.1 1005.8L900.5 1005.8"/>
<path class="x" d="M865.5 917.9L865.5 1007.2"/>
<path class="x" d="M899.1 917.9L899.1 1007.2"/>
<path class="x" d="M910 919.3L968.6 919.3"/>
<path class="x" d="M910 1005.8L968.6 1005.8"/>
<path class="x" d="M911.4 917.9L911.4 1007.2"/>
<path class="x" d="M967.2 917.9L967.2 928"/>
<path class="x" d="M967.2 996L967.2 1007.2"/>
<path class="x" d="M865.5 1018.8L865.5 1038"/>
<path class="x" d="M865.5 1109.3L865.5 1207.3"/>
<path class="x" d="M632 1190.6L852 1190.6"/>
<path class="x" d="M522.7 623.6L522.7 694.8"/>
<path class="x" d="M424 771.8L462.8 771.8"/>
<path class="x" d="M424 609.7L532.4 609.7"/>
<path class="x" d="M602 610.2L885.2 610.2"/>
<path class="x" d="M274.8 945.4L374.7 945.4"/>
<path class="x" d="M274.8 957.7L365 957.7"/>
<path class="x" d="M273.6 958.9L273.6 1070.8"/>
<path class="x" d="M272.2 1072L432.3 1072"/>
<path class="x" d="M447 1072L617.7 1072"/>
<path class="x" d="M445.8 1005.3L445.8 1070.8"/>
<path class="x" d="M981 1190.5L1356.4 1190.5"/>
<path class="x" d="M979.8 1277.4L979.8 1538.4"/>
<path class="x" d="M1841.7 1191.3L1841.7 1541.3"/>
<path class="x" d="M1932.7 1190.1L1962.6 1190.1"/>
<path class="x" d="M2627.3 1190.1L2647.9 1190.1"/>
<path class="x" d="M2717.9 1190.1L2736.5 1190.1"/>
<path class="x" d="M1974.6 1190.1L2216.2 1190.1"/>
<path class="x" d="M1974.6 1242.4L2031.5 1242.4"/>
<path class="x" d="M2143.4 1242.4L2216.2 1242.4"/>
<path class="x" d="M1976 1188.7L1976 1243.8"/>
<path class="x" d="M2214.8 1188.7L2214.8 1243.8"/>
<path class="x" d="M2374.2 1190.1L2615.2 1190.1"/>
<path class="x" d="M2374.2 1242.4L2445.3 1242.4"/>
<path class="x" d="M2558.3 1242.4L2615.2 1242.4"/>
<path class="x" d="M2375.6 1188.7L2375.6 1243.8"/>
<path class="x" d="M2613.8 1188.7L2613.8 1243.8"/>
<path class="x" d="M1962.6 1255.3L2031.5 1255.3"/>
<path class="x" d="M2143.4 1255.3L2213.6 1255.3"/>
<path class="x" d="M2376.4 1255.3L2445.3 1255.3"/>
<path class="x" d="M2558.3 1255.3L2627.3 1255.3"/>
<path class="x" d="M1963.8 1191.3L1963.8 1256.5"/>
<path class="x" d="M2626.1 1191.3L2626.1 1256.5"/>
<path class="x" d="M2225.7 1190.1L2364.3 1190.1"/>
<path class="x" d="M2227.1 1188.7L2227.1 1279"/>
<path class="x" d="M2362.9 1188.7L2362.9 1276.8"/>
<path class="x" d="M2307.4 1382.9L2364.3 1382.9"/>
<path class="x" d="M2225.7 1542.5L2364.3 1542.5"/>
<path class="x" d="M2227.1 1381.5L2227.1 1543.9"/>
<path class="x" d="M2362.9 1381.5L2362.9 1543.9"/>
<path class="x" d="M2375.6 1346.8L2375.6 1541.3"/>
<path class="t" d="M453.5 138.1L500.2 138.1"/>
<path class="t" d="M453.5 140.4L500.2 140.4"/>
<rect class="t w" x="453.2" y="132.1" width="2.5" height="14.3"/>
<rect class="t w" x="498" y="132.1" width="2.5" height="14.3"/>
<path class="t" d="M889.3 138.1L936.1 138.1"/>
<path class="t" d="M889.3 140.4L936.1 140.4"/>
<rect class="t w" x="889" y="132.1" width="2.5" height="14.3"/>
<rect class="t w" x="933.9" y="132.1" width="2.5" height="14.3"/>
<path class="t" d="M612.8 72L777.7 72"/>
<path class="t" d="M612.8 74.4L777.7 74.4"/>
<rect class="t w" x="612.5" y="66.2" width="2.5" height="13.9"/>
<rect class="t w" x="775.5" y="66.2" width="2.5" height="13.9"/>
<path class="t" d="M542.2 129.4L590.8 81.4"/>
<path class="t" d="M543.8 131.2L592.4 83.2"/>
<path class="t" d="M799.9 81.4L848.3 129.4"/>
<path class="t" d="M798.3 83.2L846.7 131.2"/>
<path class="d" d="M966.4 655.2L966.4 750.2"/>
<path class="d" d="M980.6 655.2L980.6 750.2"/>
<path class="d" d="M966.4 1026.6L966.4 1097.8"/>
<path class="d" d="M980.6 1026.6L980.6 1097.8"/>
<path class="t" d="M966 655.2L981 655.2"/>
<path class="t" d="M966 750.2L981 750.2"/>
<path class="t" d="M966 1026.6L981 1026.6"/>
<path class="t" d="M966 1097.8L981 1097.8"/>
<path class="t" d="M301.2 776L347.5 776"/>
<path class="t" d="M301.2 778.5L347.5 778.5"/>
<rect class="t w" x="300.9" y="770.1" width="2.5" height="14.3"/>
<rect class="t w" x="345.3" y="770.1" width="2.5" height="14.3"/>
<path class="t" d="M265.9 811.5L265.9 917"/>
<path class="t" d="M268.3 811.5L268.3 917"/>
<rect class="t w" x="260" y="811.2" width="14.2" height="2.5"/>
<rect class="t w" x="260" y="914.8" width="14.2" height="2.5"/>
<path class="d" d="M680.6 775.6L751.8 775.6"/>
<path class="t" d="M1144.6 517.8L1296.7 517.8"/>
<path class="t" d="M1144.6 520.2L1296.7 520.2"/>
<rect class="t w" x="1144.3" y="512.2" width="2.5" height="13.5"/>
<rect class="t w" x="1294.5" y="512.2" width="2.5" height="13.5"/>
<rect class="t w" x="1189.8" y="513.1" width="7.9" height="11.7"/>
<rect class="t w" x="1191.8" y="513.1" width="3.9" height="11.7"/>
<rect class="t w" x="1242.9" y="513.1" width="7.9" height="11.7"/>
<rect class="t w" x="1244.9" y="513.1" width="3.9" height="11.7"/>
<path class="t" d="M1364.1 544.4L1364.1 644.4"/>
<path class="t" d="M1366.5 544.4L1366.5 644.4"/>
<rect class="t w" x="1358.3" y="544.1" width="14" height="2.5"/>
<rect class="t w" x="1358.3" y="642.2" width="14" height="2.5"/>
<rect class="t w" x="1359.2" y="591" width="12.2" height="8"/>
<rect class="t w" x="1359.2" y="593" width="12.2" height="4"/>
<path class="t" d="M1397.8 677L1445.7 677"/>
<path class="t" d="M1397.8 679.5L1445.7 679.5"/>
<rect class="t w" x="1397.5" y="671.1" width="2.5" height="14.3"/>
<rect class="t w" x="1443.5" y="671.1" width="2.5" height="14.3"/>
<path class="t" d="M1656 677L1702.5 677"/>
<path class="t" d="M1656 679.5L1702.5 679.5"/>
<rect class="t w" x="1655.7" y="671.1" width="2.5" height="14.3"/>
<rect class="t w" x="1700.3" y="671.1" width="2.5" height="14.3"/>
<path class="t" d="M1797.7 614.5L1950.9 614.5"/>
<path class="t" d="M1797.7 617L1950.9 617"/>
<rect class="t w" x="1797.4" y="608.6" width="2.5" height="14.3"/>
<rect class="t w" x="1948.7" y="608.6" width="2.5" height="14.3"/>
<rect class="t w" x="1844" y="609.5" width="7.6" height="12.5"/>
<rect class="t w" x="1846" y="609.5" width="3.6" height="12.5"/>
<rect class="t w" x="1896.7" y="609.5" width="7.8" height="12.5"/>
<rect class="t w" x="1898.7" y="609.5" width="3.8" height="12.5"/>
<path class="t" d="M2069.6 614.5L2117 614.5"/>
<path class="t" d="M2069.6 617L2117 617"/>
<rect class="t w" x="2069.3" y="608.6" width="2.5" height="14.3"/>
<rect class="t w" x="2114.8" y="608.6" width="2.5" height="14.3"/>
<path class="t" d="M2166.2 614.5L2319.8 614.5"/>
<path class="t" d="M2166.2 617L2319.8 617"/>
<rect class="t w" x="2165.9" y="608.6" width="2.5" height="14.3"/>
<rect class="t w" x="2317.6" y="608.6" width="2.5" height="14.3"/>
<rect class="t w" x="2212.7" y="609.5" width="7.8" height="12.5"/>
<rect class="t w" x="2214.7" y="609.5" width="3.8" height="12.5"/>
<rect class="t w" x="2265.6" y="609.5" width="7.4" height="12.5"/>
<rect class="t w" x="2267.6" y="609.5" width="3.4" height="12.5"/>
<path class="t" d="M2368.6 614.5L2415.2 614.5"/>
<path class="t" d="M2368.6 617L2415.2 617"/>
<rect class="t w" x="2368.3" y="608.6" width="2.5" height="14.3"/>
<rect class="t w" x="2413" y="608.6" width="2.5" height="14.3"/>
<path class="t" d="M2516.8 614.5L2669.3 614.5"/>
<path class="t" d="M2516.8 617L2669.3 617"/>
<rect class="t w" x="2516.5" y="608.6" width="2.5" height="14.3"/>
<rect class="t w" x="2667.1" y="608.6" width="2.5" height="14.3"/>
<rect class="t w" x="2562.6" y="609.5" width="8" height="12.5"/>
<rect class="t w" x="2564.6" y="609.5" width="4" height="12.5"/>
<rect class="t w" x="2615.8" y="609.5" width="7.9" height="12.5"/>
<rect class="t w" x="2617.8" y="609.5" width="3.9" height="12.5"/>
<path class="t" d="M2742.8 647L2742.8 693.8"/>
<path class="t" d="M2745.1 647L2745.1 693.8"/>
<rect class="t w" x="2737.1" y="646.7" width="13.7" height="2.5"/>
<rect class="t w" x="2737.1" y="691.6" width="13.7" height="2.5"/>
<path class="t" d="M2752.9 736.9L2797.8 781.8"/>
<path class="t" d="M2751.3 738.5L2796.2 783.4"/>
<path class="t" d="M2751.3 1054.7L2796.2 1009.8"/>
<path class="t" d="M2752.9 1056.3L2797.8 1011.4"/>
<path class="t" d="M2804.7 804.1L2804.7 989.1"/>
<path class="t" d="M2807 804.1L2807 989.1"/>
<rect class="t w" x="2798.8" y="803.8" width="14.1" height="2.5"/>
<rect class="t w" x="2798.8" y="986.9" width="14.1" height="2.5"/>
<path class="t" d="M2742.8 1096.7L2742.8 1144.1"/>
<path class="t" d="M2745.1 1096.7L2745.1 1144.1"/>
<rect class="t w" x="2737.1" y="1096.4" width="13.7" height="2.5"/>
<rect class="t w" x="2737.1" y="1141.9" width="13.7" height="2.5"/>
<path class="t" d="M2742.8 1293.1L2742.8 1446.1"/>
<path class="t" d="M2745.1 1293.1L2745.1 1446.1"/>
<rect class="t w" x="2737.1" y="1292.8" width="13.7" height="2.5"/>
<rect class="t w" x="2737.1" y="1443.9" width="13.7" height="2.5"/>
<rect class="t w" x="2738" y="1338.8" width="11.9" height="7.9"/>
<rect class="t w" x="2738" y="1340.8" width="11.9" height="3.9"/>
<rect class="t w" x="2738" y="1392.1" width="11.9" height="7.9"/>
<rect class="t w" x="2738" y="1394.1" width="11.9" height="3.9"/>
<path class="t" d="M1956.1 1547.5L2108.5 1547.5"/>
<path class="t" d="M1956.1 1549.9L2108.5 1549.9"/>
<rect class="t w" x="1955.8" y="1541.9" width="2.5" height="13.5"/>
<rect class="t w" x="2106.3" y="1541.9" width="2.5" height="13.5"/>
<rect class="t w" x="2001.8" y="1542.8" width="7.9" height="11.7"/>
<rect class="t w" x="2003.8" y="1542.8" width="3.9" height="11.7"/>
<rect class="t w" x="2055.4" y="1542.8" width="7.9" height="11.7"/>
<rect class="t w" x="2057.4" y="1542.8" width="3.9" height="11.7"/>
<path class="t" d="M2474 1547.5L2626.8 1547.5"/>
<path class="t" d="M2474 1549.9L2626.8 1549.9"/>
<rect class="t w" x="2473.7" y="1541.9" width="2.5" height="13.5"/>
<rect class="t w" x="2624.6" y="1541.9" width="2.5" height="13.5"/>
<rect class="t w" x="2519.9" y="1542.8" width="7.9" height="11.7"/>
<rect class="t w" x="2521.9" y="1542.8" width="3.9" height="11.7"/>
<rect class="t w" x="2573.7" y="1542.8" width="7.7" height="11.7"/>
<rect class="t w" x="2575.7" y="1542.8" width="3.7" height="11.7"/>
<path class="t" d="M1397.8 1435.7L1445.7 1435.7"/>
<path class="t" d="M1397.8 1438.1L1445.7 1438.1"/>
<rect class="t w" x="1397.5" y="1430.2" width="2.5" height="13.5"/>
<rect class="t w" x="1443.5" y="1430.2" width="2.5" height="13.5"/>
<path class="t" d="M1653.2 1435.7L1700.7 1435.7"/>
<path class="t" d="M1653.2 1438.1L1700.7 1438.1"/>
<rect class="t w" x="1652.9" y="1430.2" width="2.5" height="13.5"/>
<rect class="t w" x="1698.5" y="1430.2" width="2.5" height="13.5"/>
<path class="t" d="M1080.7 1545L1235.3 1545"/>
<path class="t" d="M1080.7 1547.5L1235.3 1547.5"/>
<rect class="t w" x="1080.4" y="1539.4" width="2.5" height="13.7"/>
<rect class="t w" x="1233.1" y="1539.4" width="2.5" height="13.7"/>
<rect class="t w" x="1127.4" y="1540.3" width="8" height="11.9"/>
<rect class="t w" x="1129.4" y="1540.3" width="4" height="11.9"/>
<rect class="t w" x="1180.6" y="1540.3" width="7.9" height="11.9"/>
<rect class="t w" x="1182.6" y="1540.3" width="3.9" height="11.9"/>
<path class="t" d="M386.3 1761.5L485.7 1761.5"/>
<path class="t" d="M386.3 1764L485.7 1764"/>
<rect class="t w" x="386" y="1755.6" width="2.5" height="14.3"/>
<rect class="t w" x="483.5" y="1755.6" width="2.5" height="14.3"/>
<rect class="t w" x="431.5" y="1756.5" width="7.9" height="12.5"/>
<rect class="t w" x="433.5" y="1756.5" width="3.9" height="12.5"/>
<path class="t" d="M700.2 1761.5L799.6 1761.5"/>
<path class="t" d="M700.2 1764L799.6 1764"/>
<rect class="t w" x="699.9" y="1755.6" width="2.5" height="14.3"/>
<rect class="t w" x="797.4" y="1755.6" width="2.5" height="14.3"/>
<rect class="t w" x="746" y="1756.5" width="7.3" height="12.5"/>
<rect class="t w" x="748" y="1756.5" width="3.3" height="12.5"/>
<path class="t" d="M259.9 1247.5L259.9 1693.5"/>
<path class="d" d="M274.6 1248.2L496.5 1248.2"/>
<path class="d" d="M274.6 1248.2L274.6 1692.4"/>
<path class="d" d="M496.5 1248.2L496.5 1692.4"/>
<path class="d" d="M274.6 1692.4L496.5 1692.4"/>
<path class="t w" d="M966 257.7L898.2 257.7L898.2 261.3L966 261.3Z"/>
<path class="a" d="M898.2 259.5A67.8 66 0 0 0 966 325.5"/>
<path class="t w" d="M966 389.7L898.2 389.7L898.2 393.3L966 393.3Z"/>
<path class="a" d="M898.2 391.5A67.8 66 0 0 1 966 325.5"/>
<path class="t w" d="M513.5 713.4L570.4 745.7L572.2 742.5L515.3 710.2Z"/>
<path class="a" d="M571.3 744.1A65.4 65.4 0 0 1 480.7 767.9"/>
<path class="t w" d="M955.6 609L955.6 540.5L952 540.5L952 609Z"/>
<path class="a" d="M953.8 540.5A67.8 68.5 0 0 0 886 609"/>
<path class="t w" d="M872.1 724.4L907.1 664.1L903.9 662.3L868.9 722.6Z"/>
<path class="a" d="M905.5 663.2A69.7 69.7 0 0 0 870.5 653.8"/>
<path class="t w" d="M946.5 776.2L946.5 845.2L950.1 845.2L950.1 776.2Z"/>
<path class="a" d="M948.3 845.2A68.8 69 0 0 1 879.5 776.2"/>
<path class="t w" d="M1004.6 526.3L1004.6 610L1008.2 610L1008.2 526.3Z"/>
<path class="a" d="M1006.4 610A81.6 83.7 0 0 0 1088 526.3"/>
<path class="t w" d="M1490.9 686L1490.9 748.5L1494.5 748.5L1494.5 686Z"/>
<path class="a" d="M1492.7 748.5A61.2 62.5 0 0 0 1553.9 686"/>
<path class="t w" d="M1613.4 686L1613.4 748.5L1617 748.5L1617 686Z"/>
<path class="a" d="M1615.2 748.5A61.3 62.5 0 0 1 1553.9 686"/>
<path class="t w" d="M979.2 931.8L1013.1 987.9L1016.1 986.1L982.2 930Z"/>
<path class="a" d="M1014.6 987A65.5 65.5 0 0 1 981.8 996.4"/>
<path class="t w" d="M852 1105.2L782 1105.2L782 1108.8L852 1108.8Z"/>
<path class="a" d="M782 1107A70 69 0 0 1 852 1038"/>
<path class="t w" d="M259.5 1190.4L177.8 1190.4L177.8 1194L259.5 1194Z"/>
<path class="a" d="M177.8 1192.2A81.7 81.7 0 0 1 259.5 1110.5"/>
<path class="t" d="M259.9 1109.2L259.9 1194"/>
<path class="t w" d="M867.2 1277.5L916.9 1228.9L914.3 1226.3L864.6 1274.9Z"/>
<path class="a" d="M915.6 1227.6A69.5 69.5 0 0 0 867 1206.7"/>
<path class="t w" d="M881.9 1297.9L932.3 1248.2L929.7 1245.6L879.3 1295.3Z"/>
<path class="a" d="M931 1246.9A70.8 70.8 0 0 1 951.4 1295.5"/>
<path class="t w" d="M981.2 1210.8L1051.2 1210.8L1051.2 1207.2L981.2 1207.2Z"/>
<path class="a" d="M1051.2 1209A70 69 0 0 1 981.2 1278"/>
<path class="t w" d="M1356 1275L1299.5 1275L1299.5 1278.6L1356 1278.6Z"/>
<path class="a" d="M1299.5 1276.8A56.5 54.2 0 0 0 1356 1331"/>
<path class="t w" d="M1356 1383.3L1299.5 1383.3L1299.5 1386.9L1356 1386.9Z"/>
<path class="a" d="M1299.5 1385.1A56.5 54.1 0 0 1 1356 1331"/>
<path class="t w" d="M1487.4 1429.5L1487.4 1359.8L1483.8 1359.8L1483.8 1429.5Z"/>
<path class="a" d="M1485.6 1359.8A67.2 69.7 0 0 1 1552.8 1429.5"/>
<path class="t w" d="M1622.5 1429.5L1622.5 1359.8L1618.9 1359.8L1618.9 1429.5Z"/>
<path class="a" d="M1620.7 1359.8A67.9 69.7 0 0 0 1552.8 1429.5"/>
<path class="t" d="M1482.6 1444.3L1623.4 1444.3"/>
<path class="t w" d="M1831 1176.3L1831 1106.5L1827.4 1106.5L1827.4 1176.3Z"/>
<path class="a" d="M1829.2 1106.5A70.1 69.8 0 0 0 1759.1 1176.3"/>
<rect class="t" x="1831" y="1106.5" width="23.7" height="69.8"/>
<path class="t w" d="M1862.1 1191.3L1862.1 1261.3L1865.7 1261.3L1865.7 1191.3Z"/>
<path class="a" d="M1863.9 1261.3A68.8 70 0 0 0 1932.7 1191.3"/>
<path class="t w" d="M2212.3 1278.8L2163.1 1328.1L2165.7 1330.7L2214.9 1281.4Z"/>
<path class="a" d="M2164.4 1329.4A69.7 69.7 0 0 0 2213.6 1349.8"/>
<path class="t w" d="M2375.2 1279.2L2424.9 1326.7L2427.3 1324.1L2377.6 1276.6Z"/>
<path class="a" d="M2426.1 1325.4A68.7 68.7 0 0 1 2376.4 1346.6"/>
<path class="t w" d="M2236.4 1384.1L2236.4 1453.7L2240 1453.7L2240 1384.1Z"/>
<path class="a" d="M2238.2 1453.7A69.2 69.6 0 0 0 2307.4 1384.1"/>
<path class="t w" d="M2714.2 1191.3L2714.2 1261.7L2717.8 1261.7L2717.8 1191.3Z"/>
<path class="a" d="M2716 1261.7A68.1 70.4 0 0 1 2647.9 1191.3"/>
<path class="t w" d="M2031.5 1257.2L2070.4 1296.8L2072.6 1294.6L2033.7 1255Z"/>
<path class="a" d="M2071.5 1295.7A55.5 55.5 0 0 0 2088.1 1256.5"/>
<path class="t w" d="M2141.1 1255.1L2102.3 1294.7L2104.5 1296.7L2143.3 1257.1Z"/>
<path class="a" d="M2103.4 1295.7A55.4 55.4 0 0 1 2086.8 1256.5"/>
<path class="t w" d="M2445.4 1256.9L2484.9 1295.9L2487.1 1293.7L2447.6 1254.7Z"/>
<path class="a" d="M2486 1294.8A55.5 55.5 0 0 0 2502 1256.5"/>
<path class="t w" d="M2556.1 1254.7L2516.6 1293.7L2518.8 1295.9L2558.3 1256.9Z"/>
<path class="a" d="M2517.7 1294.8A55.5 55.5 0 0 1 2501.7 1256.5"/>
<rect class="t w" x="463" y="615.7" width="104.5" height="3.9"/>
<path class="t" d="M500 615.7L500 619.6"/>
<rect class="t w" x="623.3" y="707.7" width="3.9" height="104"/>
<rect class="t" x="424" y="567" width="93.5" height="41.5"/>
<path class="d" d="M424 569.2L515.2 569.2"/>
<path class="d" d="M515.2 569.2L515.2 608.5"/>
<rect class="t" x="617.5" y="567" width="247.8" height="41.5"/>
<path class="d" d="M620 569.2L863 569.2"/>
<path class="d" d="M620 569.2L620 608.5"/>
<path class="d" d="M863 569.2L863 608.5"/>
<rect class="t" x="442.5" y="625.4" width="46.3" height="15.9" rx="7" ry="6"/>
<ellipse class="t w" cx="466.2" cy="665.5" rx="15.8" ry="24.4"/>
<rect class="t w" x="442.5" y="625.4" width="46.3" height="15.9" rx="7" ry="6"/>
<path class="t" d="M372.9 785L372.9 944.2"/>
<path class="t" d="M370 864.3L369.9 875.8L369.7 882.5L369.4 888L368.9 892.9L368.3 897.4L367.6 901.4L366.8 905.2L365.8 908.7L364.7 911.9L363.5 914.9L362.1 917.7L360.6 920.2L359 922.5L357.2 924.7L355.3 926.6L353.2 928.3L350.9 929.8L348.5 931.1L345.9 932.2L343 933.1L339.9 933.8L336.3 934.3L332 934.6L324.6 934.7L317.3 934.6L313 934.3L309.4 933.8L306.2 933.1L303.4 932.2L300.7 931.1L298.3 929.8L296.1 928.3L294 926.6L292.1 924.7L290.3 922.5L288.7 920.2L287.2 917.7L285.8 914.9L284.6 911.9L283.5 908.7L282.5 905.2L281.6 901.4L280.9 897.4L280.4 892.9L279.9 888L279.6 882.5L279.4 875.8L279.3 864.3L279.4 852.9L279.6 846.2L279.9 840.7L280.4 835.7L280.9 831.3L281.6 827.2L282.5 823.5L283.5 820L284.6 816.8L285.8 813.8L287.2 811L288.7 808.5L290.3 806.1L292.1 804L294 802.1L296.1 800.4L298.3 798.9L300.7 797.6L303.4 796.5L306.2 795.6L309.4 794.8L313 794.3L317.3 794L324.6 793.9L332 794L336.3 794.3L339.9 794.8L343 795.6L345.9 796.5L348.5 797.6L350.9 798.9L353.2 800.4L355.3 802.1L357.2 804L359 806.1L360.6 808.5L362.1 811L363.5 813.8L364.7 816.8L365.8 820L366.8 823.5L367.6 827.2L368.3 831.3L368.9 835.7L369.4 840.7L369.7 846.2L369.9 852.9Z"/>
<path class="t" d="M 297.3 825.6 Q 288.6 865.1 297.3 904.6"/>
<path class="t" d="M 291.5 822.7 Q 282.4 865.1 291.5 900.8"/>
<path class="t" d="M 351.8 825.6 Q 360.5 865.1 351.8 904.6"/>
<path class="t" d="M 357.6 822.7 Q 366.7 865.1 357.6 900.8"/>
<path class="t" d="M 294.7 815.9 L 305 814.2 M 343.5 814.2 L 354.1 815.9 M 294.7 913.9 L 305 915.6 M 343.5 915.6 L 354.1 913.9"/>
<path class="t" d="M 288.6 807.3 L 300.1 804.7 M 348.4 804.7 L 359.9 807.3 M 288.6 923 L 300.1 925.5 M 348.4 925.5 L 359.9 923"/>
<ellipse class="k" cx="308.4" cy="816.5" rx="1.9" ry="1.3"/>
<ellipse class="k" cx="339.7" cy="816.5" rx="1.9" ry="1.3"/>
<ellipse class="k" cx="296.3" cy="844.9" rx="1.9" ry="1.3"/>
<ellipse class="k" cx="352.2" cy="844.9" rx="1.9" ry="1.3"/>
<ellipse class="k" cx="296.3" cy="884.4" rx="1.9" ry="1.3"/>
<ellipse class="k" cx="352.2" cy="884.4" rx="1.9" ry="1.3"/>
<ellipse class="k" cx="308.4" cy="912.9" rx="1.9" ry="1.3"/>
<ellipse class="k" cx="339.7" cy="912.9" rx="1.9" ry="1.3"/>
<circle class="k2" cx="324.3" cy="899.8" r="2.6"/>
<path class="k2" d="M323.5 924.3L323.5 936.5"/>
<path class="k2" d="M325.1 924.3L325.1 936.5"/>
<ellipse class="k2" cx="324.3" cy="924.3" rx="2.4" ry="1.2"/>
<circle class="k2" cx="318.5" cy="937.8" r="1.6"/>
<circle class="k2" cx="324.3" cy="937.8" r="1.6"/>
<circle class="k2" cx="329.5" cy="937.8" r="1.6"/>
<path class="t" d="M284.7 1043.5L284.7 965Q284.7 960.6 289 960.6L358 960.6L431.3 1008.5L431.3 1061Q431.3 1066.6 425 1066.6L312 1066.6"/>
<path class="t" d="M356.1 959.6L432.3 1007.8"/>
<path class="t" d="M357.5 957.6L433.7 1005.8"/>
<path class="t" d="M354.7 961.6L430.9 1009.8"/>
<path class="k2" d="M366 962L375.5 972.5"/>
<path class="k2" d="M372 960.5L382.5 967.5"/>
<path class="t" d="M278.9 1015.6L307.9 1015.6"/>
<path class="t" d="M278.9 1017.6L307.9 1017.6"/>
<ellipse class="t w" cx="314" cy="1016.6" rx="6.2" ry="4.8"/>
<ellipse class="t" cx="305.9" cy="1047.8" rx="6.8" ry="4.8"/>
<ellipse class="t" cx="305.9" cy="1047.8" rx="4.8" ry="3.3"/>
<path class="t" d="M278 1043.5A34.7 24.1 0 0 1 312.7 1067.6"/>
<path class="t" d="M560 844.8L617.7 844.8"/>
<path class="t" d="M560 844.8L560 1070.8"/>
<path class="d" d="M562.4 847.2L617.7 847.2"/>
<path class="d" d="M562.4 1067.6L617.7 1067.6"/>
<path class="d" d="M562.4 847.2L562.4 1067.6"/>
<path class="d" d="M562.4 956.7L617.7 956.7"/>
<circle class="t" cx="584.4" cy="901.7" r="16.3"/>
<circle class="t" cx="584.4" cy="901.7" r="13"/>
<circle class="t" cx="584.4" cy="901.7" r="1.6"/>
<rect class="t" x="594.5" y="896.7" width="3.5" height="10" rx="1.5" ry="1.5"/>
<circle class="t" cx="584.4" cy="1012" r="16.3"/>
<circle class="t" cx="584.4" cy="1012" r="13"/>
<circle class="t" cx="584.4" cy="1012" r="1.6"/>
<rect class="t" x="594.5" y="1007" width="3.5" height="10" rx="1.5" ry="1.5"/>
<path class="t" d="M633.1 647.4L735.5 647.4"/>
<path class="t" d="M633.1 652.3L735.5 652.3"/>
<path class="t" d="M735.5 624.8L735.5 652.3"/>
<path class="t" d="M757.9 624.8L757.9 761.5"/>
<path class="t" d="M762.6 624.8L762.6 761.5"/>
<path class="t" d="M828.6 624.8L828.6 761.5"/>
<path class="t" d="M656.9 776.2L656.9 905.8"/>
<path class="t" d="M661.4 776.2L661.4 905.8"/>
<path class="t" d="M784.6 776.2L784.6 905.8"/>
<path class="t" d="M789.1 776.2L789.1 905.8"/>
<path class="t" d="M661.4 878.4L784.6 878.4"/>
<path class="t" d="M661.4 883.6L784.6 883.6"/>
<path class="t" d="M941.8 920.5L941.8 1004.6"/>
<rect class="t" x="834.1" y="889" width="46.7" height="16.2" rx="7" ry="6"/>
<path class="t" d="M843 889L845.5 882.5M870.5 889L868 882.5"/>
<path class="t w" d="M845 882.4C838 862 842 840.5 857 840.2C872 840.5 876 862 869 882.4Z"/>
<path class="t" d="M900.5 905.6C888 875 902 853.9 925.6 853.9C950 853.9 963 875 950.5 905.6"/>
<path class="t" d="M908 888C896 868 912 860 925.2 860C939 860 954 868 942 888C936 894.5 914 894.5 908 888Z"/>
<circle class="t" cx="925.2" cy="885" r="2.5"/>
<rect class="t" x="923.2" y="888" width="4" height="15" rx="1.8" ry="1.8"/>
<path class="d" d="M689.3 920.5L689.3 1121.7"/>
<path class="d" d="M689.3 977.5L788.7 977.5"/>
<path class="t" d="M691.5 979.7L788.7 979.7"/>
<path class="t" d="M691.5 979.7L691.5 1119.4"/>
<path class="t" d="M691.5 1119.4L852 1119.4"/>
<path class="d" d="M632.8 1121.7L852 1121.7"/>
<path class="d" d="M761.6 1121.7L761.6 1177.5"/>
<rect class="t" x="788.7" y="920.5" width="63.3" height="71.2"/>
<path class="t" d="M788.7 985L852 985"/>
<path class="t" d="M791 991.7Q791 998.5 798 998.5L843 998.5Q850 998.5 850 991.7"/>
<rect class="t" x="636.2" y="995.6" width="50.8" height="53.1"/>
<rect class="t" x="644.5" y="999" width="39.6" height="45.8" rx="5" ry="5"/>
<circle class="t" cx="663" cy="1022.5" r="1.8"/>
<path class="t" d="M640.5 1021.5L652 1021.5"/>
<path class="t" d="M640.5 1023.5L652 1023.5"/>
<rect class="t" x="638.8" y="1013" width="3.2" height="18" rx="1.5" ry="1.5"/>
<circle class="t" cx="640.4" cy="1006" r="1.2"/>
<path class="t" d="M1081.3 794.2L1366.8 794.2L1366.8 1021.6L1306.2 1021.6L1306.2 855.4L1081.3 855.4Z"/>
<path class="d" d="M1083.8 796.8L1364.2 796.8L1364.2 1019L1309.6 1019L1309.6 852.8L1083.8 852.8Z"/>
<path class="d" d="M1159.3 796.8L1159.3 852.8"/>
<path class="d" d="M1309.6 796.8L1309.6 852.8"/>
<rect class="d2" x="1094.8" y="797.1" width="54.3" height="55.4"/>
<rect class="t w" x="1093.5" y="851.2" width="56.5" height="2.3"/>
<rect class="t w" x="1112" y="853.5" width="20" height="2.1"/>
<rect class="t w" x="1197.7" y="799.4" width="73.4" height="50.8"/>
<rect class="t" x="1200" y="808.9" width="27.5" height="37.9" rx="5" ry="5"/>
<rect class="t" x="1231.6" y="803.9" width="36.6" height="42.9" rx="5" ry="5"/>
<circle class="t" cx="1219.3" cy="834.5" r="2.2"/>
<circle class="t" cx="1254.2" cy="832" r="2.4"/>
<circle class="t" cx="1210.5" cy="804.5" r="2.6"/>
<circle class="t" cx="1223.3" cy="804.5" r="2.6"/>
<rect class="t" x="1215.6" y="803" width="2.4" height="21" rx="1.2" ry="1.2"/>
<rect class="t" x="1200.5" y="803.3" width="31.5" height="2.5" rx="1.2" ry="1.2"/>
<path class="d2" d="M1309 963.3L1364.2 963.3"/>
<rect class="k2" x="1306.4" y="961" width="2.2" height="61.4"/>
<rect class="d2" x="1309.6" y="963.6" width="48.4" height="55.4"/>
<rect class="t" x="1077.4" y="942.5" width="158" height="60.8" rx="2" ry="2"/>
<rect class="d3" x="1080" y="945.1" width="152.8" height="55.6"/>
<rect class="t w" x="1081.4" y="947.2" width="52.9" height="51.2"/>
<rect class="t" x="1085" y="956" width="46" height="38.8" rx="6" ry="6"/>
<path class="t" d="M1135.5 945.1L1135.5 1000.7"/>
<circle class="t" cx="1107.4" cy="974.3" r="2"/>
<rect class="t" x="1105.8" y="950" width="3.2" height="14" rx="1.5" ry="1.5"/>
<rect class="t" x="1099.5" y="949.8" width="16" height="2.8" rx="1.2" ry="1.2"/>
<circle class="t" cx="1123.5" cy="951.3" r="1.3"/>
<path class="t" d="M1123.5 952.6L1123.5 957"/>
<rect class="t w" x="982.3" y="1107.4" width="82.1" height="68.7"/>
<path class="t w" d="M982.3 1102.5L1020.3 1097.3L1064.4 1102.5L1064.4 1107.4L982.3 1107.4Z"/>
<rect class="t" x="983.2" y="1107.4" width="7.3" height="5.2" rx="1.2" ry="1.2"/>
<rect class="t" x="1056.4" y="1107.4" width="7.2" height="5.2" rx="1.2" ry="1.2"/>
<path class="t" d="M1019.3 1096L1019.3 1102"/>
<path class="t" d="M1022.5 1096L1022.5 1102"/>
<path class="t" d="M1064.4 1176.1L1064.4 1118.8L1371.6 1118.8L1371.6 1176.1"/>
<path class="d" d="M1064.4 1121L1369.6 1121"/>
<path class="d" d="M1369.6 1121L1369.6 1176.1"/>
<rect class="t w" x="1120.6" y="1109.7" width="69.6" height="66.4"/>
<rect class="k2" x="1122.5" y="1111.6" width="65.8" height="59.8" rx="5" ry="5"/>
<path class="t" d="M1124.7 1109.7Q1127 1104.2 1134 1104.2L1176.8 1104.2Q1183.8 1104.2 1186.4 1109.7"/>
<circle class="k2" cx="1135.2" cy="1125.3" r="9.9"/>
<circle class="k2" cx="1171.3" cy="1129.6" r="13.9"/>
<circle class="k2" cx="1171.3" cy="1129.6" r="9.1"/>
<circle class="k2" cx="1139.9" cy="1150.5" r="11.4"/>
<circle class="k2" cx="1169.9" cy="1153.7" r="7.6"/>
<circle class="k2" cx="1126.5" cy="1167.5" r="1.8"/>
<circle class="k2" cx="1135" cy="1167.5" r="1.8"/>
<circle class="k2" cx="1175" cy="1167.5" r="1.8"/>
<circle class="k2" cx="1183.7" cy="1167.5" r="1.8"/>
<path class="k2" d="M1147 1167.6L1164 1167.6"/>
<rect class="t" x="1734.2" y="875.3" width="54.6" height="107.5"/>
<path class="t" d="M1734.2 880.3L1788.8 880.3"/>
<path class="t" d="M1734.2 977.5L1788.8 977.5"/>
<rect class="t" x="1746.5" y="896.7" width="32.5" height="65.1"/>
<rect class="t" x="1750.9" y="900.8" width="23.7" height="56.6"/>
<rect class="t" x="1752" y="902" width="21.5" height="54.3"/>
<rect class="t" x="1780" y="256.3" width="60.7" height="199.1"/>
<rect class="d" x="1782.4" y="258.7" width="55.9" height="194.3"/>
<rect class="t" x="1930.6" y="149.2" width="54.2" height="70.5"/>
<path class="t" d="M1947.5 149.2L1947.5 219.7"/>
<rect class="k2" x="1930.6" y="149.2" width="2.2" height="70.5"/>
<path class="k2" d="M1939 155.5L1934.5 155.5L1934.5 212.5L1939 212.5"/>
<rect class="t" x="1933.3" y="223.8" width="60" height="115.2"/>
<rect class="d" x="1935.6" y="226.1" width="55.4" height="110.6"/>
<rect class="t" x="1934" y="339" width="54.2" height="69.6"/>
<path class="t" d="M1951.3 339L1951.3 408.6"/>
<rect class="k2" x="1934" y="339" width="2.2" height="69.6"/>
<path class="k2" d="M1942 345.5L1937.5 345.5L1937.5 401.5L1942 401.5"/>
<path class="t" d="M1988.2 339L1993.3 339"/>
<path class="t" d="M1993.3 339L1993.3 406.5"/>
<path class="t" d="M1988.2 406.5L1994.3 406.5"/>
<path class="t" d="M1994.3 408.6L1940 408.6L1940 542.5L1994.3 542.5"/>
<path class="d" d="M1994.3 411L1942.4 411L1942.4 540.1L1994.3 540.1"/>
<rect class="t" x="870" y="1311.3" width="92" height="127.7"/>
<path class="t" d="M874.5 1311.3L874.5 1439"/>
<path class="t" d="M957.5 1311.3L957.5 1439"/>
<path class="t" d="M874.5 1336.8L957.5 1336.8"/>
<path class="t" d="M874.5 1362.6L957.5 1362.6"/>
<path class="t" d="M874.5 1387.7L957.5 1387.7"/>
<path class="t" d="M874.5 1413.4L957.5 1413.4"/>
<rect class="t w" x="870" y="1308.3" width="4.5" height="4.1"/>
<rect class="t w" x="957.5" y="1308.3" width="4.5" height="4.1"/>
<path class="t" d="M880.6 1299.6L880.6 1311.3"/>
<path class="t" d="M882.3 1299.6L882.3 1311.3"/>
<path class="t" d="M951.2 1299.6L951.2 1311.3"/>
<path class="t" d="M952.9 1299.6L952.9 1311.3"/>
<path class="t" d="M915.6 1362.6L915.6 1403"/>
<path class="t w" d="M911.5 1402.4L920.6 1403.3L915.6 1417.5Z"/>
<path class="k3" d="M867 1310L867 1442.4"/>
<path class="t" d="M965.8 1310L965.8 1539"/>
<rect class="t w" x="830.2" y="1447.6" width="39.5" height="5"/>
<rect class="t w" x="830.2" y="1534.4" width="40.2" height="5.6"/>
<path class="t" d="M867.7 1452.6L867.7 1534.4"/>
<path class="t" d="M830.2 1452.6L830.2 1534.4"/>
<path class="t" d="M864.8 1496.2L847.8 1496.2"/>
<path class="t w" d="M847.8 1491.7L847.8 1501.2L833.1 1496.2Z"/>
<rect class="t" x="981.9" y="1299.3" width="28" height="239.7"/>
<rect class="t" x="1750.5" y="1192.4" width="90" height="275.5"/>
<path class="t" d="M1753.2 1192.4L1753.2 1469.7"/>
<path class="t" d="M1758.3 1192.4L1758.3 1469.7"/>
<path class="t" d="M1832.6 1192.4L1832.6 1469.7"/>
<path class="t" d="M1837.8 1192.4L1837.8 1469.7"/>
<path class="t" d="M1750.5 1217.3L1840.5 1217.3"/>
<path class="t" d="M1750.5 1242.3L1840.5 1242.3"/>
<path class="t" d="M1750.5 1267.4L1840.5 1267.4"/>
<path class="t" d="M1750.5 1292.4L1840.5 1292.4"/>
<path class="t" d="M1750.5 1317.5L1840.5 1317.5"/>
<path class="t" d="M1750.5 1342.5L1840.5 1342.5"/>
<path class="t" d="M1750.5 1367.6L1840.5 1367.6"/>
<path class="t" d="M1750.5 1392.6L1840.5 1392.6"/>
<path class="t" d="M1750.5 1417.7L1840.5 1417.7"/>
<path class="t" d="M1750.5 1442.7L1840.5 1442.7"/>
<path class="t" d="M1750.5 1467.8L1840.5 1467.8"/>
<path class="t" d="M1795.5 1229L1795.5 1417.3"/>
<path class="t w" d="M1790.8 1227.4L1800.2 1229L1795.5 1213.2Z"/>
<path class="t" d="M1749.8 1541L1840.5 1541"/>
<path class="t" d="M2228.3 1250.8L2361.7 1250.8"/>
<path class="d" d="M2228.3 1247.4L2361.7 1247.4"/>
<circle class="t" cx="2295.7" cy="1224.8" r="17"/>
<circle class="t" cx="2295.7" cy="1224.8" r="13"/>
<circle class="t" cx="2295.7" cy="1225.8" r="1.7"/>
<rect class="t" x="2290.5" y="1211.5" width="10.4" height="3.2" rx="1.5" ry="1.5"/>
<path class="t" d="M2228.3 1475.6L2361.7 1475.6"/>
<rect class="t" x="2233.4" y="1484.2" width="123.7" height="52.6" rx="7" ry="7"/>
<rect class="t" x="2238.5" y="1491.8" width="105.3" height="36.8" rx="4.5" ry="4.5"/>
<circle class="k2" cx="2246.4" cy="1510.4" r="2.3"/>
<path class="t" d="M2228.6 1507.3L2237 1507.3L2241.5 1510.3L2237 1513.3L2228.6 1513.3"/>
<rect class="t" x="2345.7" y="1409.3" width="16.3" height="45.6" rx="6" ry="7"/>
<ellipse class="t w" cx="2318" cy="1432.4" rx="21.2" ry="16.3"/>
<path class="t" d="M2338.5 1419L2345.7 1419"/>
<path class="t" d="M2338.5 1446L2345.7 1446"/>
<path class="t" d="M1980.2 1214.4L2213.6 1214.4"/>
<path class="t" d="M1980.2 1220L2213.6 1220"/>
<path class="t" d="M1980.2 1191.3L1980.2 1220"/>
<path class="t" d="M2376.8 1214.4L2612.6 1214.4"/>
<path class="t" d="M2376.8 1220L2612.6 1220"/>
<path class="t" d="M1371.1 1444.3L1371.1 1553.8"/>
<path class="t" d="M1734.4 1444.3L1734.4 1553.8"/>
<rect class="t" x="1370.2" y="1525.5" width="363.3" height="28.3"/>
<rect class="t w" x="1372.5" y="1525.5" width="5" height="29.9"/>
<rect class="t w" x="1726.7" y="1525.5" width="4.5" height="29.9"/>
<text class="h" x="636.8" y="318.7" font-size="25.6" textLength="115.2" lengthAdjust="spacingAndGlyphs">PRIMARY</text>
<text class="h" x="615" y="352.6" font-size="26.2" textLength="160" lengthAdjust="spacingAndGlyphs">19'-6&quot; X 18'-0&quot;</text>
<text class="h" x="1097.7" y="279.7" font-size="25.6" textLength="123.7" lengthAdjust="spacingAndGlyphs">PERGOLA</text>
<text class="h" x="1095.5" y="312.6" font-size="25.6" textLength="126.5" lengthAdjust="spacingAndGlyphs">COVERED</text>
<text class="h" x="1124.5" y="346.5" font-size="25.6" textLength="70.5" lengthAdjust="spacingAndGlyphs">DECK</text>
<text class="h" x="1111.5" y="380.4" font-size="26.2" textLength="97.5" lengthAdjust="spacingAndGlyphs">14' X 13'</text>
<text class="h" x="1598" y="346.5" font-size="25.6" textLength="70.5" lengthAdjust="spacingAndGlyphs">DECK</text>
<text class="h" x="1583" y="380.4" font-size="26.2" textLength="99" lengthAdjust="spacingAndGlyphs">23' X 17'</text>
<text class="h" x="421" y="840.2" font-size="25.6" textLength="116" lengthAdjust="spacingAndGlyphs">PRIMARY</text>
<text class="h" x="445.9" y="873.5" font-size="25.6" textLength="66.2" lengthAdjust="spacingAndGlyphs">BATH</text>
<text class="h" x="399.5" y="908" font-size="26.2" textLength="159.4" lengthAdjust="spacingAndGlyphs">12'-6&quot; X 16'-0&quot;</text>
<text class="h" x="659.6" y="733.3" font-size="25.6" textLength="115.2" lengthAdjust="spacingAndGlyphs">PRIMARY</text>
<text class="h" x="665.9" y="767.2" font-size="25.6" textLength="101.7" lengthAdjust="spacingAndGlyphs">CLOSET</text>
<text class="h" x="642.2" y="801" font-size="26.2" textLength="146.9" lengthAdjust="spacingAndGlyphs">6'-0&quot; X 10'-6&quot;</text>
<text class="h" x="838.8" y="831.6" font-size="25.6" textLength="114.2" lengthAdjust="spacingAndGlyphs">POWDER</text>
<text class="h" x="828.6" y="865.5" font-size="26.2" textLength="133.4" lengthAdjust="spacingAndGlyphs">5'-0&quot; X 5'-0&quot;</text>
<text class="h" x="1091" y="627.4" font-size="25.6" textLength="150.8" lengthAdjust="spacingAndGlyphs">BREAKFAST</text>
<text class="h" x="1129.9" y="660.4" font-size="25.6" textLength="73.4" lengthAdjust="spacingAndGlyphs">NOOK</text>
<text class="h" x="1086.9" y="693.6" font-size="26.2" textLength="159.4" lengthAdjust="spacingAndGlyphs">13'-6&quot; X 10'-0&quot;</text>
<text class="h" x="1093.7" y="1026.6" font-size="25.6" textLength="109.6" lengthAdjust="spacingAndGlyphs">KITCHEN</text>
<text class="h" x="1070" y="1060" font-size="26.2" textLength="159.3" lengthAdjust="spacingAndGlyphs">13'-6&quot; X 13'-6&quot;</text>
<text class="h" x="688.8" y="1056.8" font-size="25.6" textLength="122.5" lengthAdjust="spacingAndGlyphs">LAUNDRY</text>
<text class="h" x="682.5" y="1090" font-size="26.2" textLength="133.4" lengthAdjust="spacingAndGlyphs">8'-0&quot; X 9'-6&quot;</text>
<text class="h" x="1526.7" y="912.2" font-size="25.6" textLength="87.7" lengthAdjust="spacingAndGlyphs">DINING</text>
<text class="h" x="1490.5" y="946.1" font-size="26.2" textLength="160.5" lengthAdjust="spacingAndGlyphs">13'-0&quot; X 18'-0&quot;</text>
<text class="h" x="2215.4" y="898.4" font-size="25.6" textLength="82" lengthAdjust="spacingAndGlyphs">LIVING</text>
<text class="h" x="2175.4" y="932.3" font-size="26.2" textLength="162" lengthAdjust="spacingAndGlyphs">33'-0&quot; X 20'-0&quot;</text>
<text class="h" x="508.4" y="1424.5" font-size="25.6" textLength="106.8" lengthAdjust="spacingAndGlyphs">GARAGE</text>
<text class="h" x="480.6" y="1458.4" font-size="26.2" textLength="161.7" lengthAdjust="spacingAndGlyphs">21'-0&quot; X 24'-0&quot;</text>
<text class="h" x="1104.4" y="1364.4" font-size="25.6" textLength="109.1" lengthAdjust="spacingAndGlyphs">LIBRARY</text>
<text class="h" x="1104.4" y="1397.2" font-size="25.6" textLength="108" lengthAdjust="spacingAndGlyphs">/ OFFICE</text>
<text class="h" x="1446" y="1489.4" font-size="25.6" textLength="221.5" lengthAdjust="spacingAndGlyphs">COVERED ENTRY</text>
<text class="h" x="1517.2" y="1522.8" font-size="26.2" textLength="80.7" lengthAdjust="spacingAndGlyphs">13' X 4'</text>
<text class="h" x="1970" y="1394" font-size="25.6" textLength="130" lengthAdjust="spacingAndGlyphs">BEDROOM</text>
<text class="h" x="1956.2" y="1428" font-size="26.2" textLength="158.9" lengthAdjust="spacingAndGlyphs">13'-0&quot; X 10'-6&quot;</text>
<text class="h" x="2476.3" y="1397.7" font-size="25.6" textLength="130.2" lengthAdjust="spacingAndGlyphs">BEDROOM</text>
<text class="h" x="2462.3" y="1431.6" font-size="26.2" textLength="159.3" lengthAdjust="spacingAndGlyphs">13'-0&quot; X 10'-6&quot;</text>
<text class="h" x="903.9" y="1343.6" font-size="18" textLength="24.8" lengthAdjust="spacingAndGlyphs">UP</text>
<text class="h" x="836.5" y="1486.5" font-size="18" textLength="24.9" lengthAdjust="spacingAndGlyphs">UP</text>
<text class="h" x="1782.8" y="1449" font-size="18" textLength="25.6" lengthAdjust="spacingAndGlyphs">UP</text>
<text class="h2" x="1475.5" y="1734.2" font-size="48.8" textLength="524" lengthAdjust="spacingAndGlyphs">110 MUIRFIELD PLACE</text>
<text class="h2" x="1549.5" y="1796.2" font-size="48.8" textLength="374.5" lengthAdjust="spacingAndGlyphs">PINEHURST, NC</text>
<text class="ml" x="1535.5" y="1964.3" font-size="69.5" textLength="357.5" lengthAdjust="spacingAndGlyphs">Main Level</text>
<text class="fp" x="1273.6" y="2110" font-size="45" textLength="926.9" lengthAdjust="spacingAndGlyphs">Floor plan is for illustrational purposes only,</text>
<text class="fp" x="1380" y="2172.2" font-size="45" textLength="712.6" lengthAdjust="spacingAndGlyphs">measurements may not be exact.</text>
<text class="wm" x="3.5" y="2168.7" font-size="62.5" textLength="477" lengthAdjust="spacingAndGlyphs">©2026 Hive MLS</text>
</svg>
</body></html>
